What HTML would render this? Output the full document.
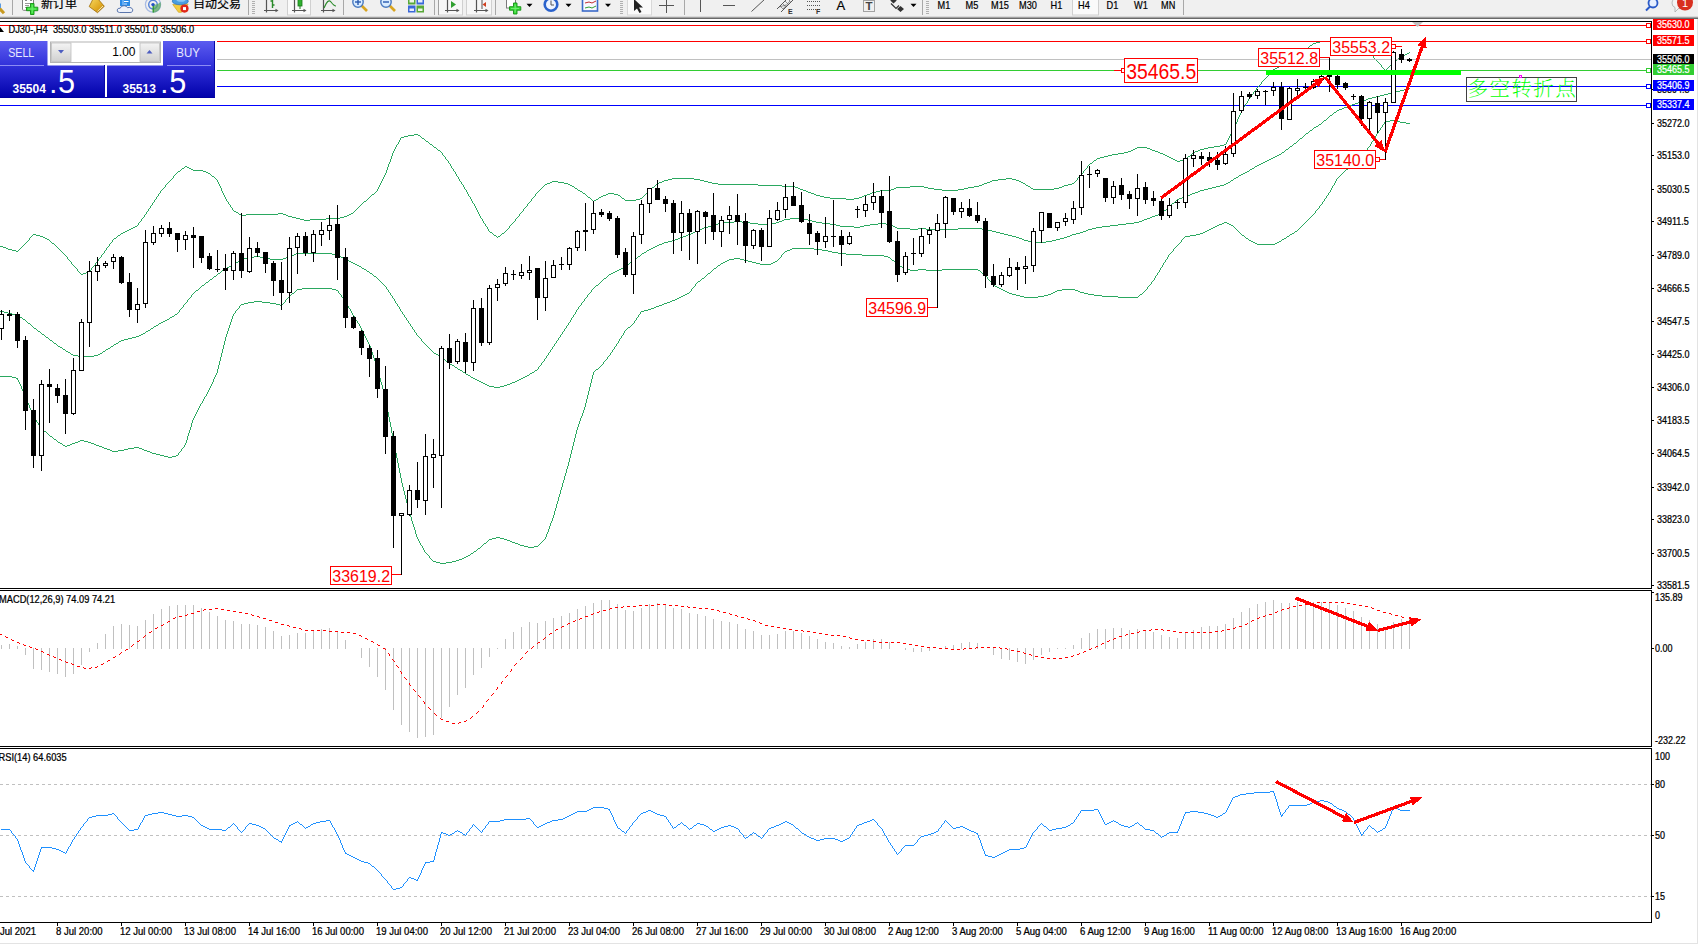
<!DOCTYPE html>
<html><head><meta charset="utf-8"><title>DJ30-,H4</title>
<style>
html,body{margin:0;padding:0;background:#fff;}
body{width:1698px;height:944px;position:relative;overflow:hidden;font-family:"Liberation Sans", sans-serif;}
svg text{white-space:pre;}
</style></head><body>
<svg width="1698" height="944" viewBox="0 0 1698 944" style="position:absolute;left:0;top:0" shape-rendering="crispEdges"><rect x="0" y="21" width="1652" height="1" fill="#000"/>
<rect x="1651" y="21" width="1" height="568" fill="#000"/>
<rect x="1651" y="590" width="1" height="157" fill="#000"/>
<rect x="1651" y="748" width="1" height="175" fill="#000"/>
<rect x="0" y="588" width="1652" height="1" fill="#000"/>
<rect x="0" y="590" width="1652" height="1" fill="#000"/>
<rect x="0" y="746" width="1652" height="1" fill="#000"/>
<rect x="0" y="748" width="1652" height="1" fill="#000"/>
<rect x="0" y="922" width="1652" height="1" fill="#000"/>
<rect x="217" y="86" width="1434" height="1" fill="#0000ff"/>
<rect x="0" y="105" width="1651" height="1" fill="#0000ff"/>
<path fill="#2aa860" d="M1320 41h14v1h-14zM1316 42h4v1h-4zM1334 42h14v1h-14zM1313 43h3v1h-3zM1348 43h4v1h-4zM1312 44h1v1h-1zM1352 44h4v1h-4zM1310 45h2v1h-2zM1356 45h4v1h-4zM1309 46h1v1h-1zM1360 46h2v1h-2zM1308 47h1v1h-1zM1362 47h2v1h-2zM1306 48h2v1h-2zM1364 48h1v1h-1zM1305 49h1v1h-1zM1365 49h1v1h-1zM1304 50h1v1h-1zM1366 50h2v1h-2zM1303 51h1v1h-1zM1368 51h1v1h-1zM1302 52h1v1h-1zM1369 52h1v1h-1zM1409 52h1v1h-1zM1301 53h1v1h-1zM1370 53h1v1h-1zM1407 53h2v1h-2zM1300 54h1v1h-1zM1371 54h1v1h-1zM1405 54h2v1h-2zM1299 55h1v1h-1zM1372 55h1v1h-1zM1403 55h2v1h-2zM1298 56h1v1h-1zM1373 56h1v2h-1zM1401 56h2v1h-2zM1297 57h1v1h-1zM1400 57h1v1h-1zM1296 58h1v1h-1zM1374 58h1v1h-1zM1398 58h2v1h-2zM1294 59h2v1h-2zM1375 59h1v1h-1zM1397 59h1v1h-1zM1293 60h1v1h-1zM1376 60h1v1h-1zM1396 60h1v1h-1zM1292 61h1v1h-1zM1377 61h1v1h-1zM1394 61h2v1h-2zM1290 62h2v1h-2zM1378 62h1v1h-1zM1393 62h1v1h-1zM1288 63h2v1h-2zM1379 63h1v1h-1zM1392 63h1v1h-1zM1284 64h4v1h-4zM1380 64h1v1h-1zM1391 64h1v1h-1zM1281 65h3v1h-3zM1381 65h1v2h-1zM1390 65h1v1h-1zM1279 66h2v1h-2zM1389 66h1v1h-1zM1277 67h2v1h-2zM1382 67h1v1h-1zM1388 67h1v1h-1zM1275 68h2v1h-2zM1383 68h1v1h-1zM1387 68h1v1h-1zM1273 69h2v1h-2zM1384 69h1v1h-1zM1386 69h1v1h-1zM1272 70h1v1h-1zM1385 70h1v1h-1zM1271 71h1v1h-1zM1270 72h1v1h-1zM1269 73h1v2h-1zM1268 75h1v1h-1zM1267 76h1v1h-1zM1266 77h1v1h-1zM1265 78h1v1h-1zM1264 79h1v1h-1zM1263 80h1v1h-1zM1262 81h1v1h-1zM1261 82h1v2h-1zM1260 84h1v1h-1zM1259 85h1v1h-1zM1258 86h1v1h-1zM1257 87h1v1h-1zM1256 88h1v2h-1zM1255 90h1v1h-1zM1254 91h1v1h-1zM1253 92h1v2h-1zM1252 94h1v1h-1zM1251 95h1v1h-1zM1250 96h1v2h-1zM1249 98h1v1h-1zM1248 99h1v2h-1zM1247 101h1v2h-1zM1246 103h1v1h-1zM1245 104h1v2h-1zM1244 106h1v1h-1zM1243 107h1v2h-1zM1242 109h1v2h-1zM1241 111h1v2h-1zM1240 113h1v2h-1zM1239 115h1v2h-1zM1238 117h1v2h-1zM1237 119h1v3h-1zM1236 122h1v2h-1zM1235 124h1v2h-1zM1234 126h1v2h-1zM1233 128h1v2h-1zM1232 130h1v2h-1zM1231 132h1v2h-1zM414 134h4v1h-4zM1230 134h1v2h-1zM408 135h6v1h-6zM418 135h2v1h-2zM404 136h4v1h-4zM420 136h1v1h-1zM1229 136h1v2h-1zM401 137h3v1h-3zM421 137h1v1h-1zM400 138h1v2h-1zM422 138h2v1h-2zM1228 138h1v2h-1zM424 139h1v1h-1zM399 140h1v2h-1zM425 140h1v1h-1zM1227 140h1v2h-1zM426 141h2v1h-2zM398 142h1v2h-1zM428 142h1v1h-1zM1226 142h1v2h-1zM429 143h1v1h-1zM397 144h1v1h-1zM430 144h2v1h-2zM1224 144h2v1h-2zM396 145h1v2h-1zM432 145h1v1h-1zM1220 145h4v1h-4zM433 146h1v1h-1zM1214 146h6v1h-6zM395 147h1v2h-1zM434 147h2v1h-2zM1137 147h10v1h-10zM1208 147h6v1h-6zM436 148h1v1h-1zM1135 148h2v1h-2zM1147 148h3v1h-3zM1204 148h4v1h-4zM394 149h1v2h-1zM437 149h1v1h-1zM1133 149h2v1h-2zM1150 149h2v1h-2zM1200 149h4v1h-4zM438 150h2v1h-2zM1131 150h2v1h-2zM1152 150h3v1h-3zM1198 150h2v1h-2zM393 151h1v2h-1zM440 151h1v1h-1zM1128 151h3v1h-3zM1155 151h3v1h-3zM1195 151h3v1h-3zM441 152h1v1h-1zM1124 152h4v1h-4zM1158 152h2v1h-2zM1193 152h2v1h-2zM392 153h1v3h-1zM442 153h1v2h-1zM1118 153h6v1h-6zM1160 153h3v1h-3zM1192 153h1v1h-1zM1112 154h6v1h-6zM1163 154h2v1h-2zM1191 154h1v1h-1zM443 155h1v1h-1zM1108 155h4v1h-4zM1165 155h2v1h-2zM1190 155h1v1h-1zM391 156h1v3h-1zM444 156h1v1h-1zM1104 156h4v1h-4zM1167 156h2v1h-2zM1188 156h2v1h-2zM445 157h1v2h-1zM1100 157h4v1h-4zM1169 157h2v1h-2zM1187 157h1v1h-1zM1097 158h3v1h-3zM1171 158h2v1h-2zM1186 158h1v1h-1zM390 159h1v3h-1zM446 159h1v1h-1zM1096 159h1v1h-1zM1173 159h2v1h-2zM1184 159h2v1h-2zM447 160h1v1h-1zM1094 160h2v1h-2zM1175 160h2v1h-2zM1180 160h4v1h-4zM448 161h1v2h-1zM1093 161h1v1h-1zM1177 161h3v1h-3zM389 162h1v2h-1zM1092 162h1v1h-1zM449 163h1v1h-1zM1090 163h2v1h-2zM388 164h1v3h-1zM450 164h1v2h-1zM1089 164h1v1h-1zM1088 165h1v1h-1zM185 166h2v1h-2zM451 166h1v2h-1zM1087 166h1v2h-1zM184 167h1v1h-1zM187 167h2v1h-2zM387 167h1v3h-1zM182 168h2v1h-2zM189 168h2v1h-2zM452 168h1v1h-1zM1086 168h1v1h-1zM181 169h1v1h-1zM191 169h2v1h-2zM453 169h1v2h-1zM1085 169h1v1h-1zM180 170h1v1h-1zM193 170h10v1h-10zM386 170h1v3h-1zM1084 170h1v1h-1zM178 171h2v1h-2zM203 171h3v1h-3zM454 171h1v1h-1zM1083 171h1v2h-1zM177 172h1v1h-1zM206 172h2v1h-2zM455 172h1v2h-1zM176 173h1v1h-1zM208 173h2v1h-2zM385 173h1v2h-1zM1082 173h1v1h-1zM175 174h1v1h-1zM210 174h1v1h-1zM456 174h1v2h-1zM1081 174h1v1h-1zM174 175h1v1h-1zM211 175h1v1h-1zM384 175h1v2h-1zM1080 175h1v1h-1zM173 176h1v2h-1zM212 176h2v1h-2zM457 176h1v1h-1zM1079 176h1v1h-1zM214 177h1v1h-1zM383 177h1v2h-1zM458 177h1v2h-1zM1078 177h1v1h-1zM172 178h1v1h-1zM215 178h1v1h-1zM672 178h22v1h-22zM1006 178h6v1h-6zM1077 178h1v2h-1zM171 179h1v1h-1zM216 179h1v1h-1zM382 179h1v2h-1zM459 179h1v2h-1zM668 179h4v1h-4zM694 179h6v1h-6zM998 179h8v1h-8zM1012 179h4v1h-4zM170 180h1v1h-1zM217 180h1v2h-1zM664 180h4v1h-4zM700 180h4v1h-4zM992 180h6v1h-6zM1016 180h3v1h-3zM1076 180h1v1h-1zM169 181h1v1h-1zM381 181h1v2h-1zM460 181h1v1h-1zM552 181h6v1h-6zM662 181h2v1h-2zM704 181h4v1h-4zM990 181h2v1h-2zM1019 181h2v1h-2zM1075 181h1v1h-1zM168 182h1v1h-1zM218 182h1v2h-1zM461 182h1v2h-1zM550 182h2v1h-2zM558 182h6v1h-6zM659 182h3v1h-3zM708 182h4v1h-4zM987 182h3v1h-3zM1021 182h2v1h-2zM1074 182h1v1h-1zM167 183h1v1h-1zM380 183h1v2h-1zM547 183h3v1h-3zM564 183h4v1h-4zM657 183h2v1h-2zM712 183h6v1h-6zM984 183h3v1h-3zM1023 183h2v1h-2zM1072 183h2v1h-2zM166 184h1v1h-1zM219 184h1v2h-1zM462 184h1v1h-1zM545 184h2v1h-2zM568 184h2v1h-2zM656 184h1v1h-1zM718 184h40v1h-40zM982 184h2v1h-2zM1025 184h1v1h-1zM1068 184h4v1h-4zM165 185h1v2h-1zM379 185h1v2h-1zM463 185h1v2h-1zM544 185h1v1h-1zM570 185h2v1h-2zM655 185h1v1h-1zM758 185h24v1h-24zM979 185h3v1h-3zM1026 185h2v1h-2zM1064 185h4v1h-4zM220 186h1v2h-1zM543 186h1v1h-1zM572 186h2v1h-2zM654 186h1v1h-1zM782 186h13v1h-13zM910 186h14v1h-14zM974 186h5v1h-5zM1028 186h2v1h-2zM1062 186h2v1h-2zM164 187h1v1h-1zM378 187h1v2h-1zM464 187h1v2h-1zM542 187h1v1h-1zM574 187h1v1h-1zM652 187h2v1h-2zM795 187h3v1h-3zM896 187h14v1h-14zM924 187h4v1h-4zM968 187h6v1h-6zM1030 187h1v1h-1zM1059 187h3v1h-3zM163 188h1v1h-1zM221 188h1v3h-1zM541 188h1v1h-1zM575 188h2v1h-2zM651 188h1v1h-1zM798 188h2v1h-2zM894 188h2v1h-2zM928 188h6v1h-6zM964 188h4v1h-4zM1031 188h2v1h-2zM1054 188h5v1h-5zM162 189h1v1h-1zM377 189h1v2h-1zM465 189h1v1h-1zM540 189h1v1h-1zM577 189h1v1h-1zM650 189h1v1h-1zM800 189h3v1h-3zM891 189h3v1h-3zM934 189h8v1h-8zM958 189h6v1h-6zM1033 189h21v1h-21zM161 190h1v1h-1zM466 190h1v2h-1zM539 190h1v1h-1zM578 190h2v1h-2zM649 190h1v1h-1zM803 190h3v1h-3zM880 190h11v1h-11zM942 190h16v1h-16zM160 191h1v2h-1zM222 191h1v2h-1zM376 191h1v1h-1zM538 191h1v1h-1zM580 191h2v1h-2zM648 191h1v1h-1zM806 191h2v1h-2zM876 191h4v1h-4zM375 192h1v1h-1zM467 192h1v2h-1zM537 192h1v1h-1zM582 192h1v1h-1zM647 192h1v1h-1zM808 192h3v1h-3zM872 192h4v1h-4zM159 193h1v1h-1zM223 193h1v2h-1zM374 193h1v1h-1zM536 193h1v1h-1zM583 193h2v1h-2zM608 193h6v1h-6zM646 193h1v1h-1zM811 193h3v1h-3zM870 193h2v1h-2zM158 194h1v2h-1zM372 194h2v1h-2zM468 194h1v2h-1zM535 194h1v2h-1zM585 194h1v1h-1zM606 194h2v1h-2zM614 194h4v1h-4zM645 194h1v1h-1zM814 194h2v1h-2zM867 194h3v1h-3zM224 195h1v2h-1zM371 195h1v1h-1zM586 195h1v1h-1zM603 195h3v1h-3zM618 195h2v1h-2zM644 195h1v1h-1zM816 195h4v1h-4zM864 195h3v1h-3zM157 196h1v1h-1zM370 196h1v1h-1zM469 196h1v1h-1zM534 196h1v1h-1zM587 196h1v1h-1zM601 196h2v1h-2zM620 196h1v1h-1zM643 196h1v1h-1zM820 196h4v1h-4zM862 196h2v1h-2zM156 197h1v2h-1zM225 197h1v2h-1zM369 197h1v1h-1zM470 197h1v2h-1zM533 197h1v1h-1zM588 197h2v1h-2zM599 197h2v1h-2zM621 197h1v1h-1zM642 197h1v1h-1zM824 197h6v1h-6zM859 197h3v1h-3zM368 198h1v1h-1zM532 198h1v1h-1zM590 198h1v1h-1zM598 198h1v1h-1zM622 198h2v1h-2zM640 198h2v1h-2zM830 198h16v1h-16zM854 198h5v1h-5zM155 199h1v1h-1zM226 199h1v2h-1zM367 199h1v1h-1zM471 199h1v2h-1zM531 199h1v2h-1zM591 199h1v1h-1zM596 199h2v1h-2zM624 199h1v1h-1zM636 199h4v1h-4zM846 199h8v1h-8zM154 200h1v2h-1zM366 200h1v1h-1zM592 200h1v1h-1zM594 200h2v1h-2zM625 200h11v1h-11zM227 201h1v1h-1zM364 201h2v1h-2zM472 201h1v2h-1zM530 201h1v1h-1zM593 201h1v1h-1zM153 202h1v1h-1zM228 202h1v2h-1zM363 202h1v1h-1zM529 202h1v1h-1zM152 203h1v2h-1zM362 203h1v1h-1zM473 203h1v1h-1zM528 203h1v1h-1zM229 204h1v1h-1zM361 204h1v1h-1zM474 204h1v2h-1zM527 204h1v2h-1zM151 205h1v1h-1zM230 205h1v2h-1zM360 205h1v1h-1zM150 206h1v2h-1zM359 206h1v1h-1zM475 206h1v2h-1zM526 206h1v1h-1zM231 207h1v1h-1zM358 207h1v1h-1zM525 207h1v1h-1zM149 208h1v1h-1zM232 208h1v2h-1zM357 208h1v1h-1zM476 208h1v2h-1zM524 208h1v1h-1zM148 209h1v2h-1zM356 209h1v1h-1zM523 209h1v2h-1zM233 210h1v1h-1zM355 210h1v1h-1zM477 210h1v2h-1zM147 211h1v1h-1zM234 211h2v1h-2zM354 211h1v1h-1zM522 211h1v1h-1zM146 212h1v2h-1zM236 212h2v1h-2zM353 212h1v1h-1zM478 212h1v2h-1zM521 212h1v1h-1zM238 213h1v1h-1zM278 213h5v1h-5zM351 213h2v1h-2zM520 213h1v1h-1zM145 214h1v1h-1zM239 214h2v1h-2zM246 214h32v1h-32zM283 214h3v1h-3zM349 214h2v1h-2zM479 214h1v2h-1zM519 214h1v2h-1zM144 215h1v2h-1zM241 215h5v1h-5zM286 215h2v1h-2zM347 215h2v1h-2zM288 216h4v1h-4zM344 216h3v1h-3zM480 216h1v2h-1zM518 216h1v1h-1zM143 217h1v1h-1zM292 217h4v1h-4zM340 217h4v1h-4zM517 217h1v1h-1zM142 218h1v1h-1zM296 218h4v1h-4zM326 218h14v1h-14zM481 218h1v1h-1zM516 218h1v1h-1zM141 219h1v2h-1zM300 219h4v1h-4zM310 219h16v1h-16zM482 219h1v2h-1zM515 219h1v2h-1zM304 220h6v1h-6zM140 221h1v1h-1zM483 221h1v2h-1zM514 221h1v1h-1zM139 222h1v1h-1zM513 222h1v1h-1zM138 223h1v2h-1zM484 223h1v1h-1zM512 223h1v1h-1zM485 224h1v2h-1zM511 224h1v1h-1zM137 225h1v1h-1zM510 225h1v1h-1zM135 226h2v1h-2zM486 226h1v1h-1zM509 226h1v2h-1zM133 227h2v1h-2zM487 227h1v2h-1zM131 228h2v1h-2zM508 228h1v1h-1zM129 229h2v1h-2zM488 229h1v2h-1zM507 229h1v1h-1zM127 230h2v1h-2zM506 230h1v1h-1zM125 231h2v1h-2zM489 231h1v1h-1zM505 231h1v1h-1zM123 232h2v1h-2zM490 232h2v1h-2zM504 232h1v1h-1zM121 233h2v1h-2zM492 233h1v1h-1zM502 233h2v1h-2zM33 234h3v1h-3zM120 234h1v1h-1zM493 234h1v1h-1zM501 234h1v1h-1zM32 235h1v1h-1zM36 235h4v1h-4zM118 235h2v1h-2zM494 235h2v1h-2zM500 235h1v1h-1zM31 236h1v1h-1zM40 236h3v1h-3zM117 236h1v1h-1zM496 236h1v1h-1zM498 236h2v1h-2zM30 237h1v1h-1zM43 237h2v1h-2zM116 237h1v1h-1zM497 237h1v1h-1zM29 238h1v2h-1zM45 238h2v1h-2zM114 238h2v1h-2zM47 239h2v1h-2zM113 239h1v1h-1zM28 240h1v1h-1zM49 240h1v1h-1zM112 240h1v2h-1zM27 241h1v1h-1zM50 241h1v1h-1zM26 242h1v1h-1zM51 242h1v1h-1zM111 242h1v1h-1zM25 243h1v1h-1zM52 243h2v1h-2zM110 243h1v1h-1zM24 244h1v1h-1zM54 244h1v1h-1zM109 244h1v2h-1zM23 245h1v1h-1zM55 245h1v1h-1zM-7 246h10v1h-10zM22 246h1v1h-1zM56 246h1v1h-1zM108 246h1v1h-1zM3 247h3v1h-3zM21 247h1v1h-1zM57 247h1v1h-1zM107 247h1v1h-1zM6 248h2v1h-2zM20 248h1v1h-1zM58 248h1v1h-1zM106 248h1v2h-1zM8 249h4v1h-4zM19 249h1v1h-1zM59 249h1v1h-1zM12 250h4v1h-4zM18 250h1v1h-1zM60 250h1v1h-1zM105 250h1v1h-1zM16 251h2v1h-2zM61 251h1v1h-1zM104 251h1v2h-1zM62 252h1v1h-1zM63 253h1v1h-1zM103 253h1v1h-1zM64 254h1v1h-1zM102 254h1v1h-1zM65 255h1v1h-1zM101 255h1v2h-1zM66 256h1v1h-1zM67 257h1v2h-1zM100 257h1v1h-1zM99 258h1v1h-1zM68 259h1v1h-1zM98 259h1v2h-1zM69 260h1v1h-1zM70 261h1v1h-1zM97 261h1v1h-1zM71 262h1v2h-1zM96 262h1v1h-1zM95 263h1v2h-1zM72 264h1v1h-1zM73 265h1v1h-1zM94 265h1v1h-1zM74 266h1v1h-1zM93 266h1v1h-1zM75 267h1v1h-1zM92 267h1v1h-1zM76 268h1v1h-1zM91 268h1v2h-1zM77 269h1v2h-1zM90 270h1v1h-1zM78 271h1v1h-1zM88 271h2v1h-2zM79 272h1v1h-1zM86 272h2v1h-2zM80 273h1v1h-1zM83 273h3v1h-3zM81 274h2v1h-2z"/>
<path fill="#2aa860" d="M1408 88h2v1h-2zM1404 89h4v1h-4zM1400 90h4v1h-4zM1396 91h4v1h-4zM1392 92h4v1h-4zM1388 93h4v1h-4zM1384 94h4v1h-4zM1380 95h4v1h-4zM1376 96h4v1h-4zM1372 97h4v1h-4zM1368 98h4v1h-4zM1366 99h2v1h-2zM1363 100h3v1h-3zM1360 101h3v1h-3zM1358 102h2v1h-2zM1355 103h3v1h-3zM1352 104h3v1h-3zM1350 105h2v1h-2zM1347 106h3v1h-3zM1344 107h3v1h-3zM1342 108h2v1h-2zM1339 109h3v1h-3zM1337 110h2v1h-2zM1336 111h1v1h-1zM1334 112h2v1h-2zM1333 113h1v1h-1zM1332 114h1v1h-1zM1330 115h2v1h-2zM1329 116h1v1h-1zM1328 117h1v1h-1zM1327 118h1v1h-1zM1326 119h1v1h-1zM1324 120h2v1h-2zM1323 121h1v1h-1zM1322 122h1v1h-1zM1321 123h1v1h-1zM1319 124h2v1h-2zM1318 125h1v1h-1zM1316 126h2v1h-2zM1314 127h2v1h-2zM1313 128h1v1h-1zM1312 129h1v1h-1zM1310 130h2v1h-2zM1309 131h1v1h-1zM1308 132h1v1h-1zM1306 133h2v1h-2zM1305 134h1v1h-1zM1304 135h1v1h-1zM1303 136h1v1h-1zM1302 137h1v1h-1zM1300 138h2v1h-2zM1299 139h1v1h-1zM1298 140h1v1h-1zM1297 141h1v1h-1zM1296 142h1v1h-1zM1294 143h2v1h-2zM1293 144h1v1h-1zM1292 145h1v1h-1zM1290 146h2v1h-2zM1289 147h1v1h-1zM1288 148h1v1h-1zM1286 149h2v1h-2zM1285 150h1v1h-1zM1284 151h1v1h-1zM1282 152h2v1h-2zM1281 153h1v1h-1zM1279 154h2v1h-2zM1277 155h2v1h-2zM1275 156h2v1h-2zM1273 157h2v1h-2zM1271 158h2v1h-2zM1269 159h2v1h-2zM1267 160h2v1h-2zM1265 161h2v1h-2zM1263 162h2v1h-2zM1261 163h2v1h-2zM1259 164h2v1h-2zM1257 165h2v1h-2zM1255 166h2v1h-2zM1254 167h1v1h-1zM1252 168h2v1h-2zM1250 169h2v1h-2zM1249 170h1v1h-1zM1247 171h2v1h-2zM1245 172h2v1h-2zM1243 173h2v1h-2zM1241 174h2v1h-2zM1239 175h2v1h-2zM1238 176h1v1h-1zM1236 177h2v1h-2zM1234 178h2v1h-2zM1233 179h1v1h-1zM1231 180h2v1h-2zM1230 181h1v1h-1zM1228 182h2v1h-2zM1226 183h2v1h-2zM1224 184h2v1h-2zM1220 185h4v1h-4zM1216 186h4v1h-4zM1212 187h4v1h-4zM1208 188h4v1h-4zM1204 189h4v1h-4zM1200 190h4v1h-4zM1198 191h2v1h-2zM1195 192h3v1h-3zM1192 193h3v1h-3zM1190 194h2v1h-2zM1187 195h3v1h-3zM1184 196h3v1h-3zM1182 197h2v1h-2zM1179 198h3v1h-3zM1177 199h2v1h-2zM1176 200h1v1h-1zM1175 201h1v1h-1zM1174 202h1v1h-1zM1172 203h2v1h-2zM1171 204h1v1h-1zM1170 205h1v1h-1zM1169 206h1v1h-1zM1168 207h1v1h-1zM1167 208h1v1h-1zM1166 209h1v1h-1zM1164 210h2v1h-2zM1163 211h1v1h-1zM1162 212h1v1h-1zM1160 213h2v1h-2zM1158 214h2v1h-2zM1155 215h3v1h-3zM1152 216h3v1h-3zM1150 217h2v1h-2zM790 218h14v1h-14zM1147 218h3v1h-3zM784 219h6v1h-6zM804 219h4v1h-4zM1144 219h3v1h-3zM782 220h2v1h-2zM808 220h4v1h-4zM1142 220h2v1h-2zM734 221h8v1h-8zM779 221h3v1h-3zM812 221h4v1h-4zM1139 221h3v1h-3zM720 222h14v1h-14zM742 222h8v1h-8zM776 222h3v1h-3zM816 222h6v1h-6zM1134 222h5v1h-5zM718 223h2v1h-2zM750 223h8v1h-8zM772 223h4v1h-4zM822 223h8v1h-8zM878 223h8v1h-8zM1126 223h8v1h-8zM715 224h3v1h-3zM758 224h14v1h-14zM830 224h6v1h-6zM870 224h8v1h-8zM886 224h5v1h-5zM1118 224h8v1h-8zM712 225h3v1h-3zM836 225h4v1h-4zM864 225h6v1h-6zM891 225h2v1h-2zM1110 225h8v1h-8zM708 226h4v1h-4zM840 226h14v1h-14zM860 226h4v1h-4zM893 226h2v1h-2zM1102 226h8v1h-8zM704 227h4v1h-4zM854 227h6v1h-6zM895 227h2v1h-2zM1096 227h6v1h-6zM702 228h2v1h-2zM897 228h13v1h-13zM918 228h8v1h-8zM958 228h24v1h-24zM1092 228h4v1h-4zM699 229h3v1h-3zM910 229h8v1h-8zM926 229h32v1h-32zM982 229h6v1h-6zM1088 229h4v1h-4zM697 230h2v1h-2zM988 230h4v1h-4zM1086 230h2v1h-2zM695 231h2v1h-2zM992 231h4v1h-4zM1083 231h3v1h-3zM693 232h2v1h-2zM996 232h4v1h-4zM1080 232h3v1h-3zM691 233h2v1h-2zM1000 233h4v1h-4zM1076 233h4v1h-4zM688 234h3v1h-3zM1004 234h4v1h-4zM1072 234h4v1h-4zM686 235h2v1h-2zM1008 235h4v1h-4zM1070 235h2v1h-2zM683 236h3v1h-3zM1012 236h4v1h-4zM1067 236h3v1h-3zM680 237h3v1h-3zM1016 237h3v1h-3zM1064 237h3v1h-3zM678 238h2v1h-2zM1019 238h3v1h-3zM1060 238h4v1h-4zM675 239h3v1h-3zM1022 239h2v1h-2zM1056 239h4v1h-4zM672 240h3v1h-3zM1024 240h4v1h-4zM1052 240h4v1h-4zM668 241h4v1h-4zM1028 241h4v1h-4zM1046 241h6v1h-6zM664 242h4v1h-4zM1032 242h14v1h-14zM662 243h2v1h-2zM659 244h3v1h-3zM657 245h2v1h-2zM655 246h2v1h-2zM653 247h2v1h-2zM651 248h2v1h-2zM649 249h2v1h-2zM647 250h2v1h-2zM646 251h1v1h-1zM644 252h2v1h-2zM296 253h36v1h-36zM642 253h2v1h-2zM294 254h2v1h-2zM332 254h4v1h-4zM641 254h1v1h-1zM291 255h3v1h-3zM336 255h3v1h-3zM640 255h1v1h-1zM254 256h6v1h-6zM288 256h3v1h-3zM339 256h2v1h-2zM638 256h2v1h-2zM248 257h6v1h-6zM260 257h4v1h-4zM286 257h2v1h-2zM341 257h2v1h-2zM637 257h1v1h-1zM244 258h4v1h-4zM264 258h6v1h-6zM283 258h3v1h-3zM343 258h2v1h-2zM636 258h1v1h-1zM241 259h3v1h-3zM270 259h13v1h-13zM345 259h2v1h-2zM634 259h2v1h-2zM239 260h2v1h-2zM347 260h2v1h-2zM633 260h1v1h-1zM238 261h1v1h-1zM349 261h2v1h-2zM632 261h1v1h-1zM236 262h2v1h-2zM351 262h2v1h-2zM630 262h2v1h-2zM234 263h2v1h-2zM353 263h2v1h-2zM629 263h1v1h-1zM233 264h1v1h-1zM355 264h2v1h-2zM628 264h1v1h-1zM231 265h2v1h-2zM357 265h2v1h-2zM626 265h2v1h-2zM229 266h2v1h-2zM359 266h2v1h-2zM625 266h1v1h-1zM227 267h2v1h-2zM361 267h1v1h-1zM623 267h2v1h-2zM225 268h2v1h-2zM362 268h2v1h-2zM621 268h2v1h-2zM224 269h1v1h-1zM364 269h2v1h-2zM619 269h2v1h-2zM222 270h2v1h-2zM366 270h1v1h-1zM617 270h2v1h-2zM221 271h1v1h-1zM367 271h2v1h-2zM615 271h2v1h-2zM220 272h1v1h-1zM369 272h1v1h-1zM613 272h2v1h-2zM218 273h2v1h-2zM370 273h2v1h-2zM611 273h2v1h-2zM217 274h1v1h-1zM372 274h1v1h-1zM609 274h2v1h-2zM216 275h1v1h-1zM373 275h1v1h-1zM608 275h1v1h-1zM214 276h2v1h-2zM374 276h2v1h-2zM607 276h1v1h-1zM213 277h1v1h-1zM376 277h1v1h-1zM606 277h1v1h-1zM212 278h1v1h-1zM377 278h1v1h-1zM604 278h2v1h-2zM210 279h2v1h-2zM378 279h1v1h-1zM603 279h1v1h-1zM209 280h1v1h-1zM379 280h1v1h-1zM602 280h1v1h-1zM208 281h1v1h-1zM380 281h1v1h-1zM601 281h1v1h-1zM206 282h2v1h-2zM381 282h1v1h-1zM600 282h1v1h-1zM205 283h1v1h-1zM382 283h1v1h-1zM599 283h1v1h-1zM204 284h1v1h-1zM383 284h1v1h-1zM598 284h1v1h-1zM202 285h2v1h-2zM384 285h1v1h-1zM596 285h2v1h-2zM201 286h1v1h-1zM385 286h1v1h-1zM595 286h1v1h-1zM200 287h1v1h-1zM386 287h1v2h-1zM594 287h1v1h-1zM199 288h1v1h-1zM593 288h1v1h-1zM198 289h1v1h-1zM387 289h1v1h-1zM592 289h1v1h-1zM196 290h2v1h-2zM388 290h1v2h-1zM591 290h1v2h-1zM195 291h1v1h-1zM194 292h1v1h-1zM389 292h1v1h-1zM590 292h1v1h-1zM193 293h1v1h-1zM390 293h1v2h-1zM589 293h1v1h-1zM192 294h1v1h-1zM588 294h1v1h-1zM191 295h1v2h-1zM391 295h1v1h-1zM587 295h1v2h-1zM392 296h1v2h-1zM190 297h1v1h-1zM586 297h1v1h-1zM189 298h1v1h-1zM393 298h1v1h-1zM585 298h1v1h-1zM188 299h1v1h-1zM394 299h1v2h-1zM584 299h1v2h-1zM187 300h1v2h-1zM395 301h1v2h-1zM583 301h1v1h-1zM186 302h1v1h-1zM582 302h1v1h-1zM185 303h1v1h-1zM396 303h1v1h-1zM581 303h1v2h-1zM184 304h1v1h-1zM397 304h1v2h-1zM183 305h1v2h-1zM580 305h1v1h-1zM398 306h1v1h-1zM579 306h1v1h-1zM182 307h1v1h-1zM399 307h1v2h-1zM578 307h1v2h-1zM181 308h1v1h-1zM180 309h1v1h-1zM400 309h1v2h-1zM577 309h1v1h-1zM179 310h1v2h-1zM576 310h1v2h-1zM-7 311h11v1h-11zM401 311h1v1h-1zM4 312h4v1h-4zM178 312h1v1h-1zM402 312h1v2h-1zM575 312h1v2h-1zM8 313h4v1h-4zM177 313h1v1h-1zM12 314h4v1h-4zM175 314h2v1h-2zM403 314h1v1h-1zM574 314h1v1h-1zM16 315h2v1h-2zM174 315h1v1h-1zM404 315h1v2h-1zM573 315h1v2h-1zM18 316h2v1h-2zM172 316h2v1h-2zM20 317h2v1h-2zM170 317h2v1h-2zM405 317h1v1h-1zM572 317h1v1h-1zM22 318h1v1h-1zM169 318h1v1h-1zM406 318h1v2h-1zM571 318h1v2h-1zM23 319h2v1h-2zM167 319h2v1h-2zM25 320h1v1h-1zM165 320h2v1h-2zM407 320h1v1h-1zM570 320h1v2h-1zM26 321h1v1h-1zM163 321h2v1h-2zM408 321h1v2h-1zM27 322h1v1h-1zM161 322h2v1h-2zM569 322h1v1h-1zM28 323h2v1h-2zM159 323h2v1h-2zM409 323h1v1h-1zM568 323h1v2h-1zM30 324h1v1h-1zM158 324h1v1h-1zM410 324h1v2h-1zM31 325h1v1h-1zM156 325h2v1h-2zM567 325h1v1h-1zM32 326h1v1h-1zM154 326h2v1h-2zM411 326h1v1h-1zM566 326h1v2h-1zM33 327h1v1h-1zM153 327h1v1h-1zM412 327h1v2h-1zM34 328h2v1h-2zM151 328h2v1h-2zM565 328h1v1h-1zM36 329h1v1h-1zM150 329h1v1h-1zM413 329h1v1h-1zM564 329h1v2h-1zM37 330h1v1h-1zM148 330h2v1h-2zM414 330h1v2h-1zM38 331h2v1h-2zM146 331h2v1h-2zM563 331h1v1h-1zM40 332h1v1h-1zM145 332h1v1h-1zM415 332h1v1h-1zM562 332h1v2h-1zM41 333h1v1h-1zM143 333h2v1h-2zM416 333h1v2h-1zM42 334h2v1h-2zM141 334h2v1h-2zM561 334h1v1h-1zM44 335h1v1h-1zM139 335h2v1h-2zM417 335h1v1h-1zM560 335h1v2h-1zM45 336h1v1h-1zM136 336h3v1h-3zM418 336h1v1h-1zM46 337h2v1h-2zM132 337h4v1h-4zM419 337h1v1h-1zM559 337h1v1h-1zM48 338h1v1h-1zM128 338h4v1h-4zM420 338h1v1h-1zM558 338h1v2h-1zM49 339h1v1h-1zM124 339h4v1h-4zM421 339h1v2h-1zM50 340h2v1h-2zM121 340h3v1h-3zM557 340h1v1h-1zM52 341h1v1h-1zM119 341h2v1h-2zM422 341h1v1h-1zM556 341h1v2h-1zM53 342h1v1h-1zM118 342h1v1h-1zM423 342h1v1h-1zM54 343h2v1h-2zM116 343h2v1h-2zM424 343h1v1h-1zM555 343h1v1h-1zM56 344h1v1h-1zM114 344h2v1h-2zM425 344h1v1h-1zM554 344h1v2h-1zM57 345h1v1h-1zM113 345h1v1h-1zM426 345h1v1h-1zM58 346h2v1h-2zM111 346h2v1h-2zM427 346h1v1h-1zM553 346h1v1h-1zM60 347h2v1h-2zM110 347h1v1h-1zM428 347h1v1h-1zM552 347h1v2h-1zM62 348h1v1h-1zM108 348h2v1h-2zM429 348h1v1h-1zM63 349h2v1h-2zM106 349h2v1h-2zM430 349h1v1h-1zM551 349h1v1h-1zM65 350h1v1h-1zM105 350h1v1h-1zM431 350h1v1h-1zM550 350h1v2h-1zM66 351h2v1h-2zM103 351h2v1h-2zM432 351h1v1h-1zM68 352h2v1h-2zM102 352h1v1h-1zM433 352h1v1h-1zM549 352h1v1h-1zM70 353h1v1h-1zM100 353h2v1h-2zM434 353h2v1h-2zM548 353h1v2h-1zM71 354h2v1h-2zM98 354h2v1h-2zM436 354h2v1h-2zM73 355h5v1h-5zM94 355h4v1h-4zM438 355h1v1h-1zM547 355h1v1h-1zM78 356h16v1h-16zM439 356h2v1h-2zM546 356h1v2h-1zM441 357h1v1h-1zM442 358h2v1h-2zM545 358h1v1h-1zM444 359h1v1h-1zM544 359h1v2h-1zM445 360h1v1h-1zM446 361h2v1h-2zM543 361h1v1h-1zM448 362h1v1h-1zM542 362h1v1h-1zM449 363h1v1h-1zM541 363h1v2h-1zM450 364h2v1h-2zM452 365h2v1h-2zM540 365h1v1h-1zM454 366h1v1h-1zM539 366h1v1h-1zM455 367h2v1h-2zM538 367h1v2h-1zM457 368h1v1h-1zM458 369h2v1h-2zM537 369h1v1h-1zM460 370h2v1h-2zM535 370h2v1h-2zM462 371h1v1h-1zM534 371h1v1h-1zM463 372h2v1h-2zM532 372h2v1h-2zM465 373h1v1h-1zM530 373h2v1h-2zM466 374h2v1h-2zM529 374h1v1h-1zM468 375h2v1h-2zM527 375h2v1h-2zM470 376h1v1h-1zM525 376h2v1h-2zM471 377h2v1h-2zM523 377h2v1h-2zM473 378h2v1h-2zM521 378h2v1h-2zM475 379h2v1h-2zM519 379h2v1h-2zM477 380h2v1h-2zM517 380h2v1h-2zM479 381h2v1h-2zM515 381h2v1h-2zM481 382h2v1h-2zM512 382h3v1h-3zM483 383h2v1h-2zM510 383h2v1h-2zM485 384h2v1h-2zM507 384h3v1h-3zM487 385h2v1h-2zM504 385h3v1h-3zM489 386h5v1h-5zM500 386h4v1h-4zM494 387h6v1h-6z"/>
<path fill="#2aa860" d="M1390 120h6v1h-6zM1385 121h5v1h-5zM1396 121h4v1h-4zM1384 122h1v2h-1zM1400 122h6v1h-6zM1406 123h4v1h-4zM1383 124h1v1h-1zM1382 125h1v2h-1zM1381 127h1v1h-1zM1380 128h1v2h-1zM1379 130h1v1h-1zM1378 131h1v2h-1zM1377 133h1v1h-1zM1376 134h1v2h-1zM1375 136h1v2h-1zM1374 138h1v1h-1zM1373 139h1v2h-1zM1372 141h1v1h-1zM1371 142h1v2h-1zM1370 144h1v2h-1zM1369 146h1v1h-1zM1368 147h1v1h-1zM1367 148h1v2h-1zM1366 150h1v1h-1zM1365 151h1v1h-1zM1364 152h1v1h-1zM1363 153h1v2h-1zM1362 155h1v1h-1zM1361 156h1v1h-1zM1360 157h1v1h-1zM1359 158h1v1h-1zM1358 159h1v1h-1zM1357 160h1v1h-1zM1356 161h1v1h-1zM1355 162h1v1h-1zM1354 163h1v1h-1zM1353 164h1v1h-1zM1352 165h1v1h-1zM1350 166h2v1h-2zM1349 167h1v1h-1zM1348 168h1v1h-1zM1346 169h2v1h-2zM1345 170h1v1h-1zM1344 171h1v1h-1zM1343 172h1v1h-1zM1342 173h1v1h-1zM1341 174h1v1h-1zM1340 175h1v1h-1zM1339 176h1v1h-1zM1338 177h1v1h-1zM1337 178h1v1h-1zM1336 179h1v2h-1zM1335 181h1v2h-1zM1334 183h1v2h-1zM1333 185h1v1h-1zM1332 186h1v2h-1zM1331 188h1v2h-1zM1330 190h1v2h-1zM1329 192h1v1h-1zM1328 193h1v2h-1zM1327 195h1v1h-1zM1326 196h1v2h-1zM1325 198h1v1h-1zM1324 199h1v2h-1zM1323 201h1v1h-1zM1322 202h1v2h-1zM1321 204h1v1h-1zM1320 205h1v1h-1zM1319 206h1v2h-1zM1318 208h1v1h-1zM1317 209h1v1h-1zM1316 210h1v1h-1zM1315 211h1v2h-1zM1314 213h1v1h-1zM1313 214h1v1h-1zM1312 215h1v1h-1zM1311 216h1v1h-1zM1310 217h1v1h-1zM1309 218h1v1h-1zM1308 219h1v1h-1zM1307 220h1v1h-1zM1306 221h1v1h-1zM1224 222h3v1h-3zM1305 222h1v1h-1zM1222 223h2v1h-2zM1227 223h2v1h-2zM1304 223h1v1h-1zM1219 224h3v1h-3zM1229 224h2v1h-2zM1303 224h1v1h-1zM1217 225h2v1h-2zM1231 225h2v1h-2zM1302 225h1v1h-1zM1215 226h2v1h-2zM1233 226h1v1h-1zM1301 226h1v1h-1zM1213 227h2v1h-2zM1234 227h1v1h-1zM1300 227h1v1h-1zM1211 228h2v1h-2zM1235 228h1v1h-1zM1299 228h1v1h-1zM1209 229h2v1h-2zM1236 229h1v1h-1zM1298 229h1v1h-1zM1207 230h2v1h-2zM1237 230h1v1h-1zM1297 230h1v1h-1zM1205 231h2v1h-2zM1238 231h1v1h-1zM1295 231h2v1h-2zM1203 232h2v1h-2zM1239 232h1v1h-1zM1294 232h1v1h-1zM1200 233h3v1h-3zM1240 233h1v1h-1zM1292 233h2v1h-2zM1196 234h4v1h-4zM1241 234h1v1h-1zM1290 234h2v1h-2zM1190 235h6v1h-6zM1242 235h2v1h-2zM1289 235h1v1h-1zM1185 236h5v1h-5zM1244 236h1v1h-1zM1287 236h2v1h-2zM1184 237h1v1h-1zM1245 237h1v1h-1zM1286 237h1v1h-1zM1183 238h1v1h-1zM1246 238h2v1h-2zM1284 238h2v1h-2zM1182 239h1v1h-1zM1248 239h1v1h-1zM1282 239h2v1h-2zM1181 240h1v2h-1zM1249 240h2v1h-2zM1281 240h1v1h-1zM1251 241h2v1h-2zM1279 241h2v1h-2zM1180 242h1v1h-1zM1253 242h2v1h-2zM1277 242h2v1h-2zM1179 243h1v1h-1zM1255 243h2v1h-2zM1275 243h2v1h-2zM1178 244h1v1h-1zM1257 244h18v1h-18zM1177 245h1v1h-1zM1176 246h1v1h-1zM1175 247h1v1h-1zM792 248h22v1h-22zM1174 248h1v1h-1zM790 249h2v1h-2zM814 249h8v1h-8zM1173 249h1v2h-1zM787 250h3v1h-3zM822 250h6v1h-6zM785 251h2v1h-2zM828 251h4v1h-4zM1172 251h1v1h-1zM784 252h1v1h-1zM832 252h6v1h-6zM1171 252h1v1h-1zM783 253h1v1h-1zM838 253h8v1h-8zM1170 253h1v1h-1zM782 254h1v1h-1zM846 254h16v1h-16zM1169 254h1v1h-1zM781 255h1v2h-1zM862 255h22v1h-22zM1168 255h1v2h-1zM884 256h4v1h-4zM780 257h1v1h-1zM888 257h2v1h-2zM1167 257h1v2h-1zM734 258h6v1h-6zM779 258h1v1h-1zM890 258h1v1h-1zM729 259h5v1h-5zM740 259h4v1h-4zM778 259h1v1h-1zM891 259h1v1h-1zM1166 259h1v1h-1zM727 260h2v1h-2zM744 260h4v1h-4zM777 260h1v1h-1zM892 260h2v1h-2zM1165 260h1v2h-1zM725 261h2v1h-2zM748 261h4v1h-4zM775 261h2v1h-2zM894 261h1v1h-1zM723 262h2v1h-2zM752 262h4v1h-4zM773 262h2v1h-2zM895 262h1v1h-1zM1164 262h1v1h-1zM721 263h2v1h-2zM756 263h4v1h-4zM771 263h2v1h-2zM896 263h1v1h-1zM1163 263h1v2h-1zM720 264h1v1h-1zM760 264h11v1h-11zM897 264h1v1h-1zM718 265h2v1h-2zM898 265h2v1h-2zM1162 265h1v2h-1zM717 266h1v1h-1zM900 266h2v1h-2zM716 267h1v1h-1zM902 267h1v1h-1zM1161 267h1v1h-1zM714 268h2v1h-2zM903 268h2v1h-2zM1160 268h1v2h-1zM713 269h1v1h-1zM905 269h5v1h-5zM918 269h8v1h-8zM942 269h36v1h-36zM712 270h1v1h-1zM910 270h8v1h-8zM926 270h16v1h-16zM978 270h2v1h-2zM1159 270h1v2h-1zM711 271h1v1h-1zM980 271h1v1h-1zM710 272h1v1h-1zM981 272h1v1h-1zM1158 272h1v1h-1zM708 273h2v1h-2zM982 273h2v1h-2zM1157 273h1v2h-1zM707 274h1v1h-1zM984 274h1v1h-1zM706 275h1v1h-1zM985 275h1v1h-1zM1156 275h1v1h-1zM705 276h1v1h-1zM986 276h1v1h-1zM1155 276h1v2h-1zM704 277h1v1h-1zM987 277h1v2h-1zM702 278h2v1h-2zM1154 278h1v2h-1zM701 279h1v1h-1zM988 279h1v1h-1zM700 280h1v1h-1zM989 280h1v1h-1zM1153 280h1v1h-1zM698 281h2v1h-2zM990 281h1v1h-1zM1152 281h1v1h-1zM697 282h1v1h-1zM991 282h1v2h-1zM1151 282h1v2h-1zM696 283h1v1h-1zM695 284h1v2h-1zM992 284h1v1h-1zM1150 284h1v1h-1zM993 285h2v1h-2zM1149 285h1v1h-1zM694 286h1v1h-1zM995 286h2v1h-2zM1148 286h1v1h-1zM693 287h1v1h-1zM997 287h2v1h-2zM1147 287h1v2h-1zM302 288h30v1h-30zM692 288h1v1h-1zM999 288h2v1h-2zM297 289h5v1h-5zM332 289h4v1h-4zM691 289h1v2h-1zM1001 289h2v1h-2zM1062 289h13v1h-13zM1146 289h1v1h-1zM296 290h1v1h-1zM336 290h2v1h-2zM1003 290h2v1h-2zM1057 290h5v1h-5zM1075 290h3v1h-3zM1145 290h1v1h-1zM295 291h1v1h-1zM338 291h1v2h-1zM690 291h1v1h-1zM1005 291h2v1h-2zM1055 291h2v1h-2zM1078 291h2v1h-2zM1144 291h1v1h-1zM294 292h1v1h-1zM689 292h1v1h-1zM1007 292h2v1h-2zM1053 292h2v1h-2zM1080 292h4v1h-4zM1143 292h1v1h-1zM292 293h2v1h-2zM339 293h1v1h-1zM687 293h2v1h-2zM1009 293h3v1h-3zM1051 293h2v1h-2zM1084 293h4v1h-4zM1142 293h1v1h-1zM291 294h1v1h-1zM340 294h1v1h-1zM685 294h2v1h-2zM1012 294h4v1h-4zM1048 294h3v1h-3zM1088 294h6v1h-6zM1140 294h2v1h-2zM290 295h1v1h-1zM341 295h1v2h-1zM683 295h2v1h-2zM1016 295h4v1h-4zM1044 295h4v1h-4zM1094 295h8v1h-8zM1139 295h1v1h-1zM289 296h1v1h-1zM681 296h2v1h-2zM1020 296h4v1h-4zM1038 296h6v1h-6zM1102 296h16v1h-16zM1138 296h1v1h-1zM288 297h1v1h-1zM342 297h1v1h-1zM679 297h2v1h-2zM1024 297h14v1h-14zM1118 297h20v1h-20zM287 298h1v1h-1zM343 298h1v1h-1zM677 298h2v1h-2zM286 299h1v1h-1zM344 299h1v2h-1zM675 299h2v1h-2zM285 300h1v2h-1zM672 300h3v1h-3zM254 301h8v1h-8zM345 301h1v1h-1zM670 301h2v1h-2zM248 302h6v1h-6zM262 302h8v1h-8zM284 302h1v1h-1zM346 302h1v2h-1zM667 302h3v1h-3zM244 303h4v1h-4zM270 303h6v1h-6zM283 303h1v1h-1zM664 303h3v1h-3zM241 304h3v1h-3zM276 304h4v1h-4zM282 304h1v1h-1zM347 304h1v2h-1zM662 304h2v1h-2zM240 305h1v1h-1zM280 305h2v1h-2zM659 305h3v1h-3zM239 306h1v2h-1zM348 306h1v2h-1zM656 306h3v1h-3zM654 307h2v1h-2zM238 308h1v1h-1zM349 308h1v1h-1zM651 308h3v1h-3zM237 309h1v1h-1zM350 309h1v2h-1zM648 309h3v1h-3zM236 310h1v1h-1zM644 310h4v1h-4zM235 311h1v2h-1zM351 311h1v2h-1zM641 311h3v1h-3zM640 312h1v2h-1zM234 313h1v1h-1zM352 313h1v2h-1zM233 314h1v2h-1zM639 314h1v1h-1zM353 315h1v1h-1zM638 315h1v2h-1zM232 316h1v3h-1zM354 316h1v2h-1zM637 317h1v1h-1zM355 318h1v2h-1zM636 318h1v2h-1zM231 319h1v3h-1zM356 320h1v1h-1zM635 320h1v1h-1zM357 321h1v2h-1zM634 321h1v2h-1zM230 322h1v3h-1zM358 323h1v1h-1zM633 323h1v1h-1zM359 324h1v2h-1zM632 324h1v1h-1zM229 325h1v3h-1zM631 325h1v1h-1zM360 326h1v2h-1zM630 326h1v1h-1zM628 327h2v1h-2zM228 328h1v3h-1zM361 328h1v2h-1zM627 328h1v1h-1zM626 329h1v1h-1zM362 330h1v2h-1zM625 330h1v1h-1zM227 331h1v3h-1zM624 331h1v2h-1zM363 332h1v2h-1zM623 333h1v2h-1zM226 334h1v3h-1zM364 334h1v2h-1zM622 335h1v1h-1zM365 336h1v2h-1zM621 336h1v2h-1zM225 337h1v4h-1zM366 338h1v2h-1zM620 338h1v1h-1zM619 339h1v2h-1zM367 340h1v2h-1zM224 341h1v4h-1zM618 341h1v2h-1zM368 342h1v2h-1zM617 343h1v1h-1zM369 344h1v2h-1zM616 344h1v2h-1zM223 345h1v4h-1zM370 346h1v3h-1zM615 346h1v1h-1zM614 347h1v2h-1zM222 349h1v4h-1zM371 349h1v3h-1zM613 349h1v1h-1zM612 350h1v2h-1zM372 352h1v3h-1zM611 352h1v1h-1zM221 353h1v4h-1zM610 353h1v2h-1zM373 355h1v3h-1zM609 355h1v1h-1zM608 356h1v1h-1zM220 357h1v4h-1zM607 357h1v2h-1zM374 358h1v3h-1zM606 359h1v1h-1zM605 360h1v1h-1zM219 361h1v4h-1zM375 361h1v3h-1zM604 361h1v1h-1zM603 362h1v2h-1zM376 364h1v3h-1zM602 364h1v1h-1zM218 365h1v4h-1zM601 365h1v1h-1zM600 366h1v1h-1zM377 367h1v3h-1zM599 367h1v1h-1zM598 368h1v1h-1zM217 369h1v4h-1zM596 369h2v1h-2zM378 370h1v4h-1zM595 370h1v1h-1zM594 371h1v1h-1zM593 372h1v3h-1zM216 373h1v2h-1zM379 374h1v4h-1zM215 375h1v2h-1zM592 375h1v4h-1zM-7 376h19v1h-19zM12 377h4v1h-4zM214 377h1v2h-1zM16 378h2v1h-2zM380 378h1v4h-1zM17 379h1v1h-1zM213 379h1v3h-1zM591 379h1v4h-1zM18 380h1v2h-1zM19 382h1v2h-1zM212 382h1v2h-1zM381 382h1v3h-1zM590 383h1v4h-1zM20 384h1v2h-1zM211 384h1v2h-1zM382 385h1v4h-1zM21 386h1v3h-1zM210 386h1v2h-1zM589 387h1v4h-1zM209 388h1v2h-1zM22 389h1v2h-1zM383 389h1v4h-1zM208 390h1v2h-1zM23 391h1v2h-1zM588 391h1v4h-1zM207 392h1v2h-1zM24 393h1v2h-1zM384 393h1v4h-1zM206 394h1v2h-1zM25 395h1v3h-1zM587 395h1v4h-1zM205 396h1v1h-1zM204 397h1v2h-1zM385 397h1v4h-1zM26 398h1v2h-1zM203 399h1v2h-1zM586 399h1v4h-1zM27 400h1v3h-1zM202 401h1v2h-1zM386 401h1v5h-1zM28 403h1v2h-1zM201 403h1v1h-1zM585 403h1v4h-1zM200 404h1v2h-1zM29 405h1v3h-1zM199 406h1v2h-1zM387 406h1v6h-1zM584 407h1v3h-1zM30 408h1v2h-1zM198 408h1v2h-1zM31 410h1v3h-1zM197 410h1v2h-1zM583 410h1v3h-1zM196 412h1v2h-1zM388 412h1v5h-1zM32 413h1v2h-1zM582 413h1v3h-1zM195 414h1v2h-1zM33 415h1v2h-1zM194 416h1v2h-1zM581 416h1v2h-1zM34 417h1v2h-1zM389 417h1v5h-1zM193 418h1v2h-1zM580 418h1v3h-1zM35 419h1v1h-1zM36 420h1v2h-1zM192 420h1v3h-1zM579 421h1v3h-1zM37 422h1v1h-1zM390 422h1v5h-1zM38 423h1v2h-1zM191 423h1v4h-1zM578 424h1v3h-1zM39 425h1v1h-1zM40 426h1v2h-1zM190 427h1v3h-1zM391 427h1v6h-1zM577 427h1v3h-1zM41 428h1v1h-1zM42 429h1v1h-1zM43 430h1v1h-1zM189 430h1v3h-1zM576 430h1v4h-1zM44 431h2v1h-2zM46 432h1v1h-1zM47 433h1v1h-1zM188 433h1v3h-1zM392 433h1v5h-1zM48 434h1v1h-1zM575 434h1v4h-1zM49 435h1v1h-1zM50 436h2v1h-2zM187 436h1v4h-1zM52 437h1v1h-1zM53 438h1v1h-1zM393 438h1v5h-1zM574 438h1v4h-1zM54 439h2v1h-2zM56 440h1v1h-1zM80 440h4v1h-4zM186 440h1v3h-1zM57 441h1v1h-1zM78 441h2v1h-2zM84 441h4v1h-4zM58 442h2v1h-2zM75 442h3v1h-3zM88 442h3v1h-3zM573 442h1v4h-1zM60 443h2v1h-2zM72 443h3v1h-3zM91 443h3v1h-3zM185 443h1v2h-1zM394 443h1v5h-1zM62 444h1v1h-1zM70 444h2v1h-2zM94 444h2v1h-2zM63 445h2v1h-2zM67 445h3v1h-3zM96 445h3v1h-3zM184 445h1v2h-1zM65 446h2v1h-2zM99 446h3v1h-3zM572 446h1v4h-1zM102 447h2v1h-2zM134 447h5v1h-5zM183 447h1v1h-1zM104 448h3v1h-3zM128 448h6v1h-6zM139 448h3v1h-3zM182 448h1v1h-1zM395 448h1v5h-1zM107 449h3v1h-3zM124 449h4v1h-4zM142 449h2v1h-2zM181 449h1v2h-1zM110 450h2v1h-2zM118 450h6v1h-6zM144 450h3v1h-3zM571 450h1v4h-1zM112 451h6v1h-6zM147 451h3v1h-3zM180 451h1v1h-1zM150 452h2v1h-2zM179 452h1v1h-1zM152 453h4v1h-4zM178 453h1v2h-1zM396 453h1v5h-1zM156 454h4v1h-4zM570 454h1v4h-1zM160 455h4v1h-4zM176 455h2v1h-2zM164 456h4v1h-4zM172 456h4v1h-4zM168 457h4v1h-4zM397 458h1v5h-1zM569 458h1v4h-1zM568 462h1v4h-1zM398 463h1v5h-1zM567 466h1v3h-1zM399 468h1v5h-1zM566 469h1v4h-1zM400 473h1v5h-1zM565 473h1v3h-1zM564 476h1v4h-1zM401 478h1v5h-1zM563 480h1v3h-1zM402 483h1v4h-1zM562 483h1v4h-1zM403 487h1v4h-1zM561 487h1v3h-1zM560 490h1v4h-1zM404 491h1v4h-1zM559 494h1v3h-1zM405 495h1v4h-1zM558 497h1v4h-1zM406 499h1v4h-1zM557 501h1v3h-1zM407 503h1v4h-1zM556 504h1v4h-1zM408 507h1v4h-1zM555 508h1v3h-1zM409 511h1v3h-1zM554 511h1v4h-1zM410 514h1v3h-1zM553 515h1v3h-1zM411 517h1v4h-1zM552 518h1v3h-1zM412 521h1v3h-1zM551 521h1v2h-1zM550 523h1v3h-1zM413 524h1v3h-1zM549 526h1v3h-1zM414 527h1v3h-1zM548 529h1v3h-1zM415 530h1v4h-1zM547 532h1v2h-1zM416 534h1v3h-1zM546 534h1v3h-1zM417 537h1v2h-1zM496 537h4v1h-4zM545 537h1v2h-1zM492 538h4v1h-4zM500 538h4v1h-4zM418 539h1v2h-1zM489 539h3v1h-3zM504 539h3v1h-3zM544 539h1v1h-1zM488 540h1v1h-1zM507 540h3v1h-3zM543 540h1v1h-1zM419 541h1v2h-1zM487 541h1v1h-1zM510 541h2v1h-2zM542 541h1v1h-1zM486 542h1v1h-1zM512 542h3v1h-3zM541 542h1v1h-1zM420 543h1v2h-1zM484 543h2v1h-2zM515 543h3v1h-3zM540 543h1v1h-1zM483 544h1v1h-1zM518 544h2v1h-2zM539 544h1v1h-1zM421 545h1v1h-1zM482 545h1v1h-1zM520 545h4v1h-4zM538 545h1v1h-1zM422 546h1v2h-1zM481 546h1v1h-1zM524 546h4v1h-4zM534 546h4v1h-4zM480 547h1v1h-1zM528 547h6v1h-6zM423 548h1v2h-1zM478 548h2v1h-2zM477 549h1v1h-1zM424 550h1v2h-1zM476 550h1v1h-1zM474 551h2v1h-2zM425 552h1v1h-1zM473 552h1v1h-1zM426 553h1v1h-1zM471 553h2v1h-2zM427 554h1v1h-1zM470 554h1v1h-1zM428 555h1v1h-1zM468 555h2v1h-2zM429 556h1v2h-1zM466 556h2v1h-2zM464 557h2v1h-2zM430 558h1v1h-1zM462 558h2v1h-2zM431 559h1v1h-1zM459 559h3v1h-3zM432 560h1v1h-1zM456 560h3v1h-3zM433 561h3v1h-3zM452 561h4v1h-4zM436 562h4v1h-4zM446 562h6v1h-6zM440 563h6v1h-6z"/>
<rect x="0" y="25" width="1651" height="1" fill="#ff0000"/>
<rect x="217" y="41" width="1434" height="1" fill="#ff0000"/>
<rect x="217" y="59" width="1434" height="1" fill="#c0c0c0"/>
<rect x="217" y="70" width="1434" height="1" fill="#32cd32"/>
<rect x="1" y="310" width="1" height="30" fill="#000"/>
<rect x="-1" y="314" width="5" height="15" fill="#000"/>
<rect x="0" y="315" width="3" height="13" fill="#fff"/>
<rect x="9" y="310" width="1" height="11" fill="#000"/>
<rect x="7" y="314" width="5" height="2" fill="#000"/>
<rect x="17" y="312" width="1" height="36" fill="#000"/>
<rect x="15" y="314" width="5" height="27" fill="#000"/>
<rect x="25" y="336" width="1" height="94" fill="#000"/>
<rect x="23" y="340" width="5" height="71" fill="#000"/>
<rect x="33" y="399" width="1" height="69" fill="#000"/>
<rect x="31" y="410" width="5" height="46" fill="#000"/>
<rect x="41" y="380" width="1" height="91" fill="#000"/>
<rect x="39" y="384" width="5" height="72" fill="#000"/>
<rect x="40" y="385" width="3" height="70" fill="#fff"/>
<rect x="49" y="369" width="1" height="54" fill="#000"/>
<rect x="47" y="384" width="5" height="3" fill="#000"/>
<rect x="57" y="384" width="1" height="19" fill="#000"/>
<rect x="55" y="388" width="5" height="8" fill="#000"/>
<rect x="65" y="379" width="1" height="55" fill="#000"/>
<rect x="63" y="395" width="5" height="19" fill="#000"/>
<rect x="73" y="358" width="1" height="57" fill="#000"/>
<rect x="71" y="370" width="5" height="44" fill="#000"/>
<rect x="72" y="371" width="3" height="42" fill="#fff"/>
<rect x="81" y="319" width="1" height="52" fill="#000"/>
<rect x="79" y="322" width="5" height="49" fill="#000"/>
<rect x="80" y="323" width="3" height="47" fill="#fff"/>
<rect x="89" y="261" width="1" height="86" fill="#000"/>
<rect x="87" y="271" width="5" height="52" fill="#000"/>
<rect x="88" y="272" width="3" height="50" fill="#fff"/>
<rect x="97" y="257" width="1" height="24" fill="#000"/>
<rect x="95" y="265" width="5" height="7" fill="#000"/>
<rect x="96" y="266" width="3" height="5" fill="#fff"/>
<rect x="105" y="261" width="1" height="7" fill="#000"/>
<rect x="103" y="263" width="5" height="3" fill="#000"/>
<rect x="104" y="264" width="3" height="1" fill="#fff"/>
<rect x="113" y="254" width="1" height="15" fill="#000"/>
<rect x="111" y="257" width="5" height="5" fill="#000"/>
<rect x="112" y="258" width="3" height="3" fill="#fff"/>
<rect x="121" y="256" width="1" height="28" fill="#000"/>
<rect x="119" y="257" width="5" height="26" fill="#000"/>
<rect x="129" y="273" width="1" height="44" fill="#000"/>
<rect x="127" y="282" width="5" height="28" fill="#000"/>
<rect x="137" y="288" width="1" height="35" fill="#000"/>
<rect x="135" y="304" width="5" height="6" fill="#000"/>
<rect x="136" y="305" width="3" height="4" fill="#fff"/>
<rect x="145" y="230" width="1" height="78" fill="#000"/>
<rect x="143" y="242" width="5" height="62" fill="#000"/>
<rect x="144" y="243" width="3" height="60" fill="#fff"/>
<rect x="153" y="226" width="1" height="19" fill="#000"/>
<rect x="151" y="233" width="5" height="10" fill="#000"/>
<rect x="152" y="234" width="3" height="8" fill="#fff"/>
<rect x="161" y="225" width="1" height="12" fill="#000"/>
<rect x="159" y="228" width="5" height="6" fill="#000"/>
<rect x="160" y="229" width="3" height="4" fill="#fff"/>
<rect x="169" y="222" width="1" height="15" fill="#000"/>
<rect x="167" y="228" width="5" height="6" fill="#000"/>
<rect x="177" y="233" width="1" height="19" fill="#000"/>
<rect x="175" y="233" width="5" height="7" fill="#000"/>
<rect x="185" y="231" width="1" height="19" fill="#000"/>
<rect x="183" y="235" width="5" height="5" fill="#000"/>
<rect x="184" y="236" width="3" height="3" fill="#fff"/>
<rect x="193" y="227" width="1" height="41" fill="#000"/>
<rect x="191" y="235" width="5" height="3" fill="#000"/>
<rect x="201" y="236" width="1" height="27" fill="#000"/>
<rect x="199" y="236" width="5" height="22" fill="#000"/>
<rect x="209" y="253" width="1" height="17" fill="#000"/>
<rect x="207" y="256" width="5" height="13" fill="#000"/>
<rect x="217" y="250" width="1" height="22" fill="#000"/>
<rect x="215" y="269" width="5" height="1" fill="#000"/>
<rect x="225" y="254" width="1" height="36" fill="#000"/>
<rect x="223" y="268" width="5" height="3" fill="#000"/>
<rect x="233" y="251" width="1" height="29" fill="#000"/>
<rect x="231" y="253" width="5" height="18" fill="#000"/>
<rect x="232" y="254" width="3" height="16" fill="#fff"/>
<rect x="241" y="213" width="1" height="65" fill="#000"/>
<rect x="239" y="253" width="5" height="18" fill="#000"/>
<rect x="249" y="237" width="1" height="36" fill="#000"/>
<rect x="247" y="248" width="5" height="24" fill="#000"/>
<rect x="248" y="249" width="3" height="22" fill="#fff"/>
<rect x="257" y="242" width="1" height="15" fill="#000"/>
<rect x="255" y="248" width="5" height="5" fill="#000"/>
<rect x="265" y="252" width="1" height="21" fill="#000"/>
<rect x="263" y="252" width="5" height="12" fill="#000"/>
<rect x="273" y="261" width="1" height="35" fill="#000"/>
<rect x="271" y="263" width="5" height="18" fill="#000"/>
<rect x="281" y="262" width="1" height="48" fill="#000"/>
<rect x="279" y="280" width="5" height="13" fill="#000"/>
<rect x="289" y="237" width="1" height="66" fill="#000"/>
<rect x="287" y="248" width="5" height="45" fill="#000"/>
<rect x="288" y="249" width="3" height="43" fill="#fff"/>
<rect x="297" y="233" width="1" height="41" fill="#000"/>
<rect x="295" y="236" width="5" height="12" fill="#000"/>
<rect x="296" y="237" width="3" height="10" fill="#fff"/>
<rect x="305" y="232" width="1" height="24" fill="#000"/>
<rect x="303" y="236" width="5" height="17" fill="#000"/>
<rect x="313" y="230" width="1" height="32" fill="#000"/>
<rect x="311" y="234" width="5" height="19" fill="#000"/>
<rect x="312" y="235" width="3" height="17" fill="#fff"/>
<rect x="321" y="222" width="1" height="24" fill="#000"/>
<rect x="319" y="230" width="5" height="5" fill="#000"/>
<rect x="320" y="231" width="3" height="3" fill="#fff"/>
<rect x="329" y="215" width="1" height="25" fill="#000"/>
<rect x="327" y="225" width="5" height="6" fill="#000"/>
<rect x="328" y="226" width="3" height="4" fill="#fff"/>
<rect x="337" y="205" width="1" height="75" fill="#000"/>
<rect x="335" y="224" width="5" height="34" fill="#000"/>
<rect x="345" y="248" width="1" height="80" fill="#000"/>
<rect x="343" y="257" width="5" height="61" fill="#000"/>
<rect x="353" y="316" width="1" height="13" fill="#000"/>
<rect x="351" y="317" width="5" height="11" fill="#000"/>
<rect x="361" y="330" width="1" height="25" fill="#000"/>
<rect x="359" y="331" width="5" height="17" fill="#000"/>
<rect x="369" y="345" width="1" height="32" fill="#000"/>
<rect x="367" y="348" width="5" height="11" fill="#000"/>
<rect x="377" y="350" width="1" height="48" fill="#000"/>
<rect x="375" y="358" width="5" height="31" fill="#000"/>
<rect x="385" y="366" width="1" height="88" fill="#000"/>
<rect x="383" y="389" width="5" height="48" fill="#000"/>
<rect x="393" y="431" width="1" height="117" fill="#000"/>
<rect x="391" y="436" width="5" height="80" fill="#000"/>
<rect x="401" y="513" width="1" height="62" fill="#000"/>
<rect x="399" y="513" width="5" height="3" fill="#000"/>
<rect x="400" y="514" width="3" height="1" fill="#fff"/>
<rect x="409" y="485" width="1" height="31" fill="#000"/>
<rect x="407" y="490" width="5" height="25" fill="#000"/>
<rect x="408" y="491" width="3" height="23" fill="#fff"/>
<rect x="417" y="462" width="1" height="46" fill="#000"/>
<rect x="415" y="490" width="5" height="10" fill="#000"/>
<rect x="425" y="434" width="1" height="81" fill="#000"/>
<rect x="423" y="456" width="5" height="45" fill="#000"/>
<rect x="424" y="457" width="3" height="43" fill="#fff"/>
<rect x="433" y="439" width="1" height="49" fill="#000"/>
<rect x="431" y="454" width="5" height="4" fill="#000"/>
<rect x="432" y="455" width="3" height="2" fill="#fff"/>
<rect x="441" y="346" width="1" height="162" fill="#000"/>
<rect x="439" y="348" width="5" height="108" fill="#000"/>
<rect x="440" y="349" width="3" height="106" fill="#fff"/>
<rect x="449" y="334" width="1" height="35" fill="#000"/>
<rect x="447" y="348" width="5" height="15" fill="#000"/>
<rect x="457" y="339" width="1" height="25" fill="#000"/>
<rect x="455" y="341" width="5" height="21" fill="#000"/>
<rect x="456" y="342" width="3" height="19" fill="#fff"/>
<rect x="465" y="333" width="1" height="40" fill="#000"/>
<rect x="463" y="342" width="5" height="20" fill="#000"/>
<rect x="473" y="300" width="1" height="71" fill="#000"/>
<rect x="471" y="308" width="5" height="55" fill="#000"/>
<rect x="472" y="309" width="3" height="53" fill="#fff"/>
<rect x="481" y="298" width="1" height="48" fill="#000"/>
<rect x="479" y="308" width="5" height="35" fill="#000"/>
<rect x="489" y="285" width="1" height="60" fill="#000"/>
<rect x="487" y="288" width="5" height="55" fill="#000"/>
<rect x="488" y="289" width="3" height="53" fill="#fff"/>
<rect x="497" y="279" width="1" height="22" fill="#000"/>
<rect x="495" y="284" width="5" height="4" fill="#000"/>
<rect x="496" y="285" width="3" height="2" fill="#fff"/>
<rect x="505" y="267" width="1" height="19" fill="#000"/>
<rect x="503" y="273" width="5" height="11" fill="#000"/>
<rect x="504" y="274" width="3" height="9" fill="#fff"/>
<rect x="513" y="270" width="1" height="10" fill="#000"/>
<rect x="511" y="274" width="5" height="1" fill="#000"/>
<rect x="521" y="264" width="1" height="15" fill="#000"/>
<rect x="519" y="272" width="5" height="4" fill="#000"/>
<rect x="520" y="273" width="3" height="2" fill="#fff"/>
<rect x="529" y="256" width="1" height="24" fill="#000"/>
<rect x="527" y="270" width="5" height="3" fill="#000"/>
<rect x="528" y="271" width="3" height="1" fill="#fff"/>
<rect x="537" y="268" width="1" height="52" fill="#000"/>
<rect x="535" y="268" width="5" height="30" fill="#000"/>
<rect x="545" y="261" width="1" height="50" fill="#000"/>
<rect x="543" y="278" width="5" height="20" fill="#000"/>
<rect x="544" y="279" width="3" height="18" fill="#fff"/>
<rect x="553" y="260" width="1" height="18" fill="#000"/>
<rect x="551" y="265" width="5" height="13" fill="#000"/>
<rect x="552" y="266" width="3" height="11" fill="#fff"/>
<rect x="561" y="257" width="1" height="13" fill="#000"/>
<rect x="559" y="264" width="5" height="1" fill="#000"/>
<rect x="569" y="247" width="1" height="23" fill="#000"/>
<rect x="567" y="248" width="5" height="17" fill="#000"/>
<rect x="568" y="249" width="3" height="15" fill="#fff"/>
<rect x="577" y="230" width="1" height="21" fill="#000"/>
<rect x="575" y="231" width="5" height="17" fill="#000"/>
<rect x="576" y="232" width="3" height="15" fill="#fff"/>
<rect x="585" y="203" width="1" height="48" fill="#000"/>
<rect x="583" y="230" width="5" height="2" fill="#000"/>
<rect x="593" y="201" width="1" height="33" fill="#000"/>
<rect x="591" y="213" width="5" height="17" fill="#000"/>
<rect x="592" y="214" width="3" height="15" fill="#fff"/>
<rect x="601" y="209" width="1" height="8" fill="#000"/>
<rect x="599" y="212" width="5" height="3" fill="#000"/>
<rect x="609" y="211" width="1" height="10" fill="#000"/>
<rect x="607" y="213" width="5" height="6" fill="#000"/>
<rect x="617" y="216" width="1" height="42" fill="#000"/>
<rect x="615" y="218" width="5" height="37" fill="#000"/>
<rect x="625" y="248" width="1" height="29" fill="#000"/>
<rect x="623" y="252" width="5" height="23" fill="#000"/>
<rect x="633" y="232" width="1" height="62" fill="#000"/>
<rect x="631" y="236" width="5" height="39" fill="#000"/>
<rect x="632" y="237" width="3" height="37" fill="#fff"/>
<rect x="641" y="200" width="1" height="44" fill="#000"/>
<rect x="639" y="204" width="5" height="31" fill="#000"/>
<rect x="640" y="205" width="3" height="29" fill="#fff"/>
<rect x="649" y="188" width="1" height="25" fill="#000"/>
<rect x="647" y="188" width="5" height="16" fill="#000"/>
<rect x="648" y="189" width="3" height="14" fill="#fff"/>
<rect x="657" y="180" width="1" height="20" fill="#000"/>
<rect x="655" y="188" width="5" height="12" fill="#000"/>
<rect x="665" y="196" width="1" height="16" fill="#000"/>
<rect x="663" y="199" width="5" height="5" fill="#000"/>
<rect x="673" y="200" width="1" height="54" fill="#000"/>
<rect x="671" y="203" width="5" height="30" fill="#000"/>
<rect x="681" y="201" width="1" height="50" fill="#000"/>
<rect x="679" y="213" width="5" height="20" fill="#000"/>
<rect x="680" y="214" width="3" height="18" fill="#fff"/>
<rect x="689" y="209" width="1" height="51" fill="#000"/>
<rect x="687" y="213" width="5" height="19" fill="#000"/>
<rect x="697" y="210" width="1" height="54" fill="#000"/>
<rect x="695" y="211" width="5" height="21" fill="#000"/>
<rect x="696" y="212" width="3" height="19" fill="#fff"/>
<rect x="705" y="211" width="1" height="33" fill="#000"/>
<rect x="703" y="212" width="5" height="5" fill="#000"/>
<rect x="713" y="193" width="1" height="47" fill="#000"/>
<rect x="711" y="215" width="5" height="17" fill="#000"/>
<rect x="721" y="216" width="1" height="31" fill="#000"/>
<rect x="719" y="220" width="5" height="12" fill="#000"/>
<rect x="720" y="221" width="3" height="10" fill="#fff"/>
<rect x="729" y="206" width="1" height="28" fill="#000"/>
<rect x="727" y="215" width="5" height="5" fill="#000"/>
<rect x="728" y="216" width="3" height="3" fill="#fff"/>
<rect x="737" y="194" width="1" height="51" fill="#000"/>
<rect x="735" y="215" width="5" height="7" fill="#000"/>
<rect x="745" y="213" width="1" height="50" fill="#000"/>
<rect x="743" y="221" width="5" height="25" fill="#000"/>
<rect x="753" y="229" width="1" height="20" fill="#000"/>
<rect x="751" y="230" width="5" height="16" fill="#000"/>
<rect x="752" y="231" width="3" height="14" fill="#fff"/>
<rect x="761" y="228" width="1" height="33" fill="#000"/>
<rect x="759" y="230" width="5" height="17" fill="#000"/>
<rect x="769" y="210" width="1" height="37" fill="#000"/>
<rect x="767" y="218" width="5" height="29" fill="#000"/>
<rect x="768" y="219" width="3" height="27" fill="#fff"/>
<rect x="777" y="202" width="1" height="19" fill="#000"/>
<rect x="775" y="210" width="5" height="10" fill="#000"/>
<rect x="776" y="211" width="3" height="8" fill="#fff"/>
<rect x="785" y="184" width="1" height="34" fill="#000"/>
<rect x="783" y="197" width="5" height="13" fill="#000"/>
<rect x="784" y="198" width="3" height="11" fill="#fff"/>
<rect x="793" y="182" width="1" height="24" fill="#000"/>
<rect x="791" y="196" width="5" height="10" fill="#000"/>
<rect x="801" y="192" width="1" height="31" fill="#000"/>
<rect x="799" y="205" width="5" height="17" fill="#000"/>
<rect x="809" y="214" width="1" height="31" fill="#000"/>
<rect x="807" y="223" width="5" height="11" fill="#000"/>
<rect x="817" y="231" width="1" height="24" fill="#000"/>
<rect x="815" y="233" width="5" height="9" fill="#000"/>
<rect x="825" y="217" width="1" height="31" fill="#000"/>
<rect x="823" y="236" width="5" height="6" fill="#000"/>
<rect x="824" y="237" width="3" height="4" fill="#fff"/>
<rect x="833" y="200" width="1" height="47" fill="#000"/>
<rect x="831" y="236" width="5" height="1" fill="#000"/>
<rect x="841" y="230" width="1" height="36" fill="#000"/>
<rect x="839" y="236" width="5" height="9" fill="#000"/>
<rect x="849" y="232" width="1" height="13" fill="#000"/>
<rect x="847" y="236" width="5" height="8" fill="#000"/>
<rect x="848" y="237" width="3" height="6" fill="#fff"/>
<rect x="857" y="206" width="1" height="12" fill="#000"/>
<rect x="855" y="209" width="5" height="1" fill="#000"/>
<rect x="865" y="196" width="1" height="21" fill="#000"/>
<rect x="863" y="204" width="5" height="7" fill="#000"/>
<rect x="864" y="205" width="3" height="5" fill="#fff"/>
<rect x="873" y="183" width="1" height="27" fill="#000"/>
<rect x="871" y="196" width="5" height="7" fill="#000"/>
<rect x="872" y="197" width="3" height="5" fill="#fff"/>
<rect x="881" y="190" width="1" height="38" fill="#000"/>
<rect x="879" y="196" width="5" height="17" fill="#000"/>
<rect x="889" y="176" width="1" height="67" fill="#000"/>
<rect x="887" y="211" width="5" height="31" fill="#000"/>
<rect x="897" y="231" width="1" height="51" fill="#000"/>
<rect x="895" y="241" width="5" height="34" fill="#000"/>
<rect x="905" y="252" width="1" height="23" fill="#000"/>
<rect x="903" y="256" width="5" height="17" fill="#000"/>
<rect x="904" y="257" width="3" height="15" fill="#fff"/>
<rect x="913" y="238" width="1" height="27" fill="#000"/>
<rect x="911" y="253" width="5" height="1" fill="#000"/>
<rect x="921" y="228" width="1" height="29" fill="#000"/>
<rect x="919" y="236" width="5" height="18" fill="#000"/>
<rect x="920" y="237" width="3" height="16" fill="#fff"/>
<rect x="929" y="227" width="1" height="17" fill="#000"/>
<rect x="927" y="230" width="5" height="5" fill="#000"/>
<rect x="928" y="231" width="3" height="3" fill="#fff"/>
<rect x="937" y="214" width="1" height="94" fill="#000"/>
<rect x="935" y="223" width="5" height="8" fill="#000"/>
<rect x="936" y="224" width="3" height="6" fill="#fff"/>
<rect x="945" y="196" width="1" height="42" fill="#000"/>
<rect x="943" y="197" width="5" height="27" fill="#000"/>
<rect x="944" y="198" width="3" height="25" fill="#fff"/>
<rect x="953" y="198" width="1" height="17" fill="#000"/>
<rect x="951" y="198" width="5" height="14" fill="#000"/>
<rect x="961" y="202" width="1" height="16" fill="#000"/>
<rect x="959" y="208" width="5" height="4" fill="#000"/>
<rect x="960" y="209" width="3" height="2" fill="#fff"/>
<rect x="969" y="199" width="1" height="18" fill="#000"/>
<rect x="967" y="208" width="5" height="8" fill="#000"/>
<rect x="977" y="202" width="1" height="21" fill="#000"/>
<rect x="975" y="215" width="5" height="6" fill="#000"/>
<rect x="985" y="218" width="1" height="70" fill="#000"/>
<rect x="983" y="221" width="5" height="55" fill="#000"/>
<rect x="993" y="264" width="1" height="23" fill="#000"/>
<rect x="991" y="276" width="5" height="9" fill="#000"/>
<rect x="1001" y="272" width="1" height="15" fill="#000"/>
<rect x="999" y="275" width="5" height="10" fill="#000"/>
<rect x="1000" y="276" width="3" height="8" fill="#fff"/>
<rect x="1009" y="258" width="1" height="19" fill="#000"/>
<rect x="1007" y="267" width="5" height="9" fill="#000"/>
<rect x="1008" y="268" width="3" height="7" fill="#fff"/>
<rect x="1017" y="262" width="1" height="28" fill="#000"/>
<rect x="1015" y="267" width="5" height="3" fill="#000"/>
<rect x="1025" y="256" width="1" height="28" fill="#000"/>
<rect x="1023" y="266" width="5" height="3" fill="#000"/>
<rect x="1024" y="267" width="3" height="1" fill="#fff"/>
<rect x="1033" y="228" width="1" height="44" fill="#000"/>
<rect x="1031" y="231" width="5" height="35" fill="#000"/>
<rect x="1032" y="232" width="3" height="33" fill="#fff"/>
<rect x="1041" y="212" width="1" height="31" fill="#000"/>
<rect x="1039" y="212" width="5" height="19" fill="#000"/>
<rect x="1040" y="213" width="3" height="17" fill="#fff"/>
<rect x="1049" y="213" width="1" height="15" fill="#000"/>
<rect x="1047" y="213" width="5" height="15" fill="#000"/>
<rect x="1057" y="222" width="1" height="9" fill="#000"/>
<rect x="1055" y="222" width="5" height="6" fill="#000"/>
<rect x="1056" y="223" width="3" height="4" fill="#fff"/>
<rect x="1065" y="213" width="1" height="13" fill="#000"/>
<rect x="1063" y="218" width="5" height="4" fill="#000"/>
<rect x="1064" y="219" width="3" height="2" fill="#fff"/>
<rect x="1073" y="201" width="1" height="23" fill="#000"/>
<rect x="1071" y="208" width="5" height="12" fill="#000"/>
<rect x="1072" y="209" width="3" height="10" fill="#fff"/>
<rect x="1081" y="161" width="1" height="54" fill="#000"/>
<rect x="1079" y="175" width="5" height="33" fill="#000"/>
<rect x="1080" y="176" width="3" height="31" fill="#fff"/>
<rect x="1089" y="166" width="1" height="22" fill="#000"/>
<rect x="1087" y="174" width="5" height="1" fill="#000"/>
<rect x="1097" y="169" width="1" height="8" fill="#000"/>
<rect x="1095" y="170" width="5" height="4" fill="#000"/>
<rect x="1096" y="171" width="3" height="2" fill="#fff"/>
<rect x="1105" y="178" width="1" height="24" fill="#000"/>
<rect x="1103" y="178" width="5" height="20" fill="#000"/>
<rect x="1113" y="181" width="1" height="23" fill="#000"/>
<rect x="1111" y="186" width="5" height="12" fill="#000"/>
<rect x="1112" y="187" width="3" height="10" fill="#fff"/>
<rect x="1121" y="178" width="1" height="22" fill="#000"/>
<rect x="1119" y="185" width="5" height="10" fill="#000"/>
<rect x="1129" y="191" width="1" height="18" fill="#000"/>
<rect x="1127" y="194" width="5" height="5" fill="#000"/>
<rect x="1137" y="174" width="1" height="42" fill="#000"/>
<rect x="1135" y="188" width="5" height="11" fill="#000"/>
<rect x="1136" y="189" width="3" height="9" fill="#fff"/>
<rect x="1145" y="182" width="1" height="22" fill="#000"/>
<rect x="1143" y="187" width="5" height="13" fill="#000"/>
<rect x="1153" y="191" width="1" height="15" fill="#000"/>
<rect x="1151" y="198" width="5" height="3" fill="#000"/>
<rect x="1161" y="199" width="1" height="21" fill="#000"/>
<rect x="1159" y="201" width="5" height="15" fill="#000"/>
<rect x="1169" y="198" width="1" height="20" fill="#000"/>
<rect x="1167" y="205" width="5" height="11" fill="#000"/>
<rect x="1168" y="206" width="3" height="9" fill="#fff"/>
<rect x="1177" y="200" width="1" height="9" fill="#000"/>
<rect x="1175" y="202" width="5" height="1" fill="#000"/>
<rect x="1185" y="154" width="1" height="54" fill="#000"/>
<rect x="1183" y="158" width="5" height="45" fill="#000"/>
<rect x="1184" y="159" width="3" height="43" fill="#fff"/>
<rect x="1193" y="150" width="1" height="17" fill="#000"/>
<rect x="1191" y="155" width="5" height="4" fill="#000"/>
<rect x="1192" y="156" width="3" height="2" fill="#fff"/>
<rect x="1201" y="152" width="1" height="13" fill="#000"/>
<rect x="1199" y="156" width="5" height="3" fill="#000"/>
<rect x="1209" y="152" width="1" height="15" fill="#000"/>
<rect x="1207" y="157" width="5" height="4" fill="#000"/>
<rect x="1217" y="152" width="1" height="18" fill="#000"/>
<rect x="1215" y="160" width="5" height="5" fill="#000"/>
<rect x="1225" y="146" width="1" height="19" fill="#000"/>
<rect x="1223" y="154" width="5" height="10" fill="#000"/>
<rect x="1224" y="155" width="3" height="8" fill="#fff"/>
<rect x="1233" y="93" width="1" height="64" fill="#000"/>
<rect x="1231" y="111" width="5" height="43" fill="#000"/>
<rect x="1232" y="112" width="3" height="41" fill="#fff"/>
<rect x="1241" y="91" width="1" height="22" fill="#000"/>
<rect x="1239" y="96" width="5" height="15" fill="#000"/>
<rect x="1240" y="97" width="3" height="13" fill="#fff"/>
<rect x="1249" y="92" width="1" height="7" fill="#000"/>
<rect x="1247" y="94" width="5" height="3" fill="#000"/>
<rect x="1257" y="89" width="1" height="10" fill="#000"/>
<rect x="1255" y="91" width="5" height="5" fill="#000"/>
<rect x="1256" y="92" width="3" height="3" fill="#fff"/>
<rect x="1265" y="90" width="1" height="15" fill="#000"/>
<rect x="1263" y="91" width="5" height="1" fill="#000"/>
<rect x="1273" y="82" width="1" height="14" fill="#000"/>
<rect x="1271" y="87" width="5" height="4" fill="#000"/>
<rect x="1272" y="88" width="3" height="2" fill="#fff"/>
<rect x="1281" y="82" width="1" height="48" fill="#000"/>
<rect x="1279" y="87" width="5" height="32" fill="#000"/>
<rect x="1289" y="87" width="1" height="33" fill="#000"/>
<rect x="1287" y="88" width="5" height="32" fill="#000"/>
<rect x="1288" y="89" width="3" height="30" fill="#fff"/>
<rect x="1297" y="79" width="1" height="16" fill="#000"/>
<rect x="1295" y="88" width="5" height="3" fill="#000"/>
<rect x="1296" y="89" width="3" height="1" fill="#fff"/>
<rect x="1305" y="83" width="1" height="7" fill="#000"/>
<rect x="1303" y="87" width="5" height="1" fill="#000"/>
<rect x="1313" y="79" width="1" height="10" fill="#000"/>
<rect x="1311" y="81" width="5" height="7" fill="#000"/>
<rect x="1312" y="82" width="3" height="5" fill="#fff"/>
<rect x="1321" y="74" width="1" height="7" fill="#000"/>
<rect x="1319" y="76" width="5" height="4" fill="#000"/>
<rect x="1320" y="77" width="3" height="2" fill="#fff"/>
<rect x="1329" y="57" width="1" height="35" fill="#000"/>
<rect x="1327" y="75" width="5" height="2" fill="#000"/>
<rect x="1337" y="75" width="1" height="14" fill="#000"/>
<rect x="1335" y="76" width="5" height="9" fill="#000"/>
<rect x="1345" y="82" width="1" height="8" fill="#000"/>
<rect x="1343" y="83" width="5" height="5" fill="#000"/>
<rect x="1353" y="94" width="1" height="6" fill="#000"/>
<rect x="1351" y="96" width="5" height="1" fill="#000"/>
<rect x="1361" y="95" width="1" height="31" fill="#000"/>
<rect x="1359" y="96" width="5" height="23" fill="#000"/>
<rect x="1369" y="101" width="1" height="32" fill="#000"/>
<rect x="1367" y="102" width="5" height="17" fill="#000"/>
<rect x="1368" y="103" width="3" height="15" fill="#fff"/>
<rect x="1377" y="96" width="1" height="37" fill="#000"/>
<rect x="1375" y="103" width="5" height="10" fill="#000"/>
<rect x="1385" y="98" width="1" height="62" fill="#000"/>
<rect x="1383" y="102" width="5" height="11" fill="#000"/>
<rect x="1384" y="103" width="3" height="9" fill="#fff"/>
<rect x="1393" y="51" width="1" height="52" fill="#000"/>
<rect x="1391" y="52" width="5" height="51" fill="#000"/>
<rect x="1392" y="53" width="3" height="49" fill="#fff"/>
<rect x="1401" y="49" width="1" height="14" fill="#000"/>
<rect x="1399" y="54" width="5" height="6" fill="#000"/>
<rect x="1409" y="58" width="1" height="4" fill="#000"/>
<rect x="1407" y="59" width="5" height="2" fill="#000"/>
<rect x="1266" y="70" width="195" height="5" fill="#00ff00"/>
<rect x="1114" y="70" width="8" height="1" fill="#ff0000"/>
<rect x="1121.5" y="68.5" width="4" height="4" fill="#fff" stroke="#ff0000" stroke-width="1"/>
<rect x="1124.5" y="58.5" width="73" height="24" fill="#fff" stroke="#ff0000" stroke-width="1"/><text transform="translate(1161.2,79.1) scale(0.88,1)" font-family='"Liberation Sans", sans-serif' font-size="22" fill="#ff0000" text-anchor="middle" font-weight="normal">35465.5</text>
<rect x="1320" y="57" width="10" height="1" fill="#ff0000"/>
<rect x="1258.5" y="48.5" width="61" height="18" fill="#fff" stroke="#ff0000" stroke-width="1"/><text transform="translate(1289.2,64.1) scale(0.94,1)" font-family='"Liberation Sans", sans-serif' font-size="17" fill="#ff0000" text-anchor="middle" font-weight="normal">35512.8</text>
<rect x="1396" y="46" width="6" height="1" fill="#ff0000"/>
<rect x="1391.5" y="44.5" width="4" height="4" fill="#fff" stroke="#ff0000" stroke-width="1"/>
<rect x="1330.5" y="37.5" width="61" height="18" fill="#fff" stroke="#ff0000" stroke-width="1"/><text transform="translate(1361.2,53.1) scale(0.94,1)" font-family='"Liberation Sans", sans-serif' font-size="17" fill="#ff0000" text-anchor="middle" font-weight="normal">35553.2</text>
<rect x="1379" y="159" width="6" height="1" fill="#ff0000"/>
<rect x="1375.5" y="157.5" width="4" height="4" fill="#fff" stroke="#ff0000" stroke-width="1"/>
<rect x="1314.5" y="150.5" width="61" height="18" fill="#fff" stroke="#ff0000" stroke-width="1"/><text transform="translate(1345.2,166.1) scale(0.94,1)" font-family='"Liberation Sans", sans-serif' font-size="17" fill="#ff0000" text-anchor="middle" font-weight="normal">35140.0</text>
<rect x="928" y="307" width="9" height="1" fill="#ff0000"/>
<rect x="866.5" y="298.5" width="61" height="18" fill="#fff" stroke="#ff0000" stroke-width="1"/><text transform="translate(897.2,314.1) scale(0.94,1)" font-family='"Liberation Sans", sans-serif' font-size="17" fill="#ff0000" text-anchor="middle" font-weight="normal">34596.9</text>
<rect x="392" y="574" width="9" height="1" fill="#ff0000"/>
<rect x="330.5" y="566.5" width="61" height="18" fill="#fff" stroke="#ff0000" stroke-width="1"/><text transform="translate(361.2,582.1) scale(0.94,1)" font-family='"Liberation Sans", sans-serif' font-size="17" fill="#ff0000" text-anchor="middle" font-weight="normal">33619.2</text>
<polygon points="1412,22 1423,22 1417.5,27" fill="#c0c0c0" shape-rendering="auto"/>
<rect x="1466.5" y="77.5" width="110" height="24" fill="none" stroke="#404040" stroke-width="1"/>
<text x="1467.6" y="95.9" font-family='"Liberation Serif", "Noto Serif CJK SC", serif' font-size="20.5" font-weight="200" fill="#00ff00" letter-spacing="1.4">多空转折点</text>
<rect x="1519.5" y="75.5" width="2" height="2" fill="#fff" stroke="#ff00ff" stroke-width="1"/>
<rect x="1646.5" y="23.5" width="4" height="4" fill="#fff" stroke="#ff0000" stroke-width="1"/>
<rect x="1646.5" y="39.5" width="4" height="4" fill="#fff" stroke="#ff0000" stroke-width="1"/>
<rect x="1646.5" y="68.5" width="4" height="4" fill="#fff" stroke="#32cd32" stroke-width="1"/>
<rect x="1646.5" y="84.5" width="4" height="4" fill="#fff" stroke="#0000ff" stroke-width="1"/>
<rect x="1646.5" y="103.5" width="4" height="4" fill="#fff" stroke="#0000ff" stroke-width="1"/>
<rect x="1652" y="89" width="2" height="1" fill="#000"/><text transform="translate(1657,93.0) scale(0.9,1)" font-family='"Liberation Sans", sans-serif' font-size="10" fill="#000" text-anchor="start" font-weight="normal" stroke="#000" stroke-width="0.25">35394.5</text>
<rect x="1652" y="123" width="2" height="1" fill="#000"/><text transform="translate(1657,127.0) scale(0.9,1)" font-family='"Liberation Sans", sans-serif' font-size="10" fill="#000" text-anchor="start" font-weight="normal" stroke="#000" stroke-width="0.25">35272.0</text>
<rect x="1652" y="155" width="2" height="1" fill="#000"/><text transform="translate(1657,159.0) scale(0.9,1)" font-family='"Liberation Sans", sans-serif' font-size="10" fill="#000" text-anchor="start" font-weight="normal" stroke="#000" stroke-width="0.25">35153.0</text>
<rect x="1652" y="189" width="2" height="1" fill="#000"/><text transform="translate(1657,193.0) scale(0.9,1)" font-family='"Liberation Sans", sans-serif' font-size="10" fill="#000" text-anchor="start" font-weight="normal" stroke="#000" stroke-width="0.25">35030.5</text>
<rect x="1652" y="221" width="2" height="1" fill="#000"/><text transform="translate(1657,225.0) scale(0.9,1)" font-family='"Liberation Sans", sans-serif' font-size="10" fill="#000" text-anchor="start" font-weight="normal" stroke="#000" stroke-width="0.25">34911.5</text>
<rect x="1652" y="255" width="2" height="1" fill="#000"/><text transform="translate(1657,259.0) scale(0.9,1)" font-family='"Liberation Sans", sans-serif' font-size="10" fill="#000" text-anchor="start" font-weight="normal" stroke="#000" stroke-width="0.25">34789.0</text>
<rect x="1652" y="288" width="2" height="1" fill="#000"/><text transform="translate(1657,292.0) scale(0.9,1)" font-family='"Liberation Sans", sans-serif' font-size="10" fill="#000" text-anchor="start" font-weight="normal" stroke="#000" stroke-width="0.25">34666.5</text>
<rect x="1652" y="321" width="2" height="1" fill="#000"/><text transform="translate(1657,325.0) scale(0.9,1)" font-family='"Liberation Sans", sans-serif' font-size="10" fill="#000" text-anchor="start" font-weight="normal" stroke="#000" stroke-width="0.25">34547.5</text>
<rect x="1652" y="354" width="2" height="1" fill="#000"/><text transform="translate(1657,358.0) scale(0.9,1)" font-family='"Liberation Sans", sans-serif' font-size="10" fill="#000" text-anchor="start" font-weight="normal" stroke="#000" stroke-width="0.25">34425.0</text>
<rect x="1652" y="387" width="2" height="1" fill="#000"/><text transform="translate(1657,391.0) scale(0.9,1)" font-family='"Liberation Sans", sans-serif' font-size="10" fill="#000" text-anchor="start" font-weight="normal" stroke="#000" stroke-width="0.25">34306.0</text>
<rect x="1652" y="420" width="2" height="1" fill="#000"/><text transform="translate(1657,424.0) scale(0.9,1)" font-family='"Liberation Sans", sans-serif' font-size="10" fill="#000" text-anchor="start" font-weight="normal" stroke="#000" stroke-width="0.25">34183.5</text>
<rect x="1652" y="453" width="2" height="1" fill="#000"/><text transform="translate(1657,457.0) scale(0.9,1)" font-family='"Liberation Sans", sans-serif' font-size="10" fill="#000" text-anchor="start" font-weight="normal" stroke="#000" stroke-width="0.25">34064.5</text>
<rect x="1652" y="487" width="2" height="1" fill="#000"/><text transform="translate(1657,491.0) scale(0.9,1)" font-family='"Liberation Sans", sans-serif' font-size="10" fill="#000" text-anchor="start" font-weight="normal" stroke="#000" stroke-width="0.25">33942.0</text>
<rect x="1652" y="519" width="2" height="1" fill="#000"/><text transform="translate(1657,523.0) scale(0.9,1)" font-family='"Liberation Sans", sans-serif' font-size="10" fill="#000" text-anchor="start" font-weight="normal" stroke="#000" stroke-width="0.25">33823.0</text>
<rect x="1652" y="553" width="2" height="1" fill="#000"/><text transform="translate(1657,557.0) scale(0.9,1)" font-family='"Liberation Sans", sans-serif' font-size="10" fill="#000" text-anchor="start" font-weight="normal" stroke="#000" stroke-width="0.25">33700.5</text>
<rect x="1652" y="585" width="2" height="1" fill="#000"/><text transform="translate(1657,589.0) scale(0.9,1)" font-family='"Liberation Sans", sans-serif' font-size="10" fill="#000" text-anchor="start" font-weight="normal" stroke="#000" stroke-width="0.25">33581.5</text>
<rect x="1653" y="19" width="41" height="11" fill="#ff0000"/><text transform="translate(1657,28.3) scale(0.9,1)" font-family='"Liberation Sans", sans-serif' font-size="10" fill="#fff" text-anchor="start" font-weight="normal" stroke="#fff" stroke-width="0.25">35630.0</text>
<rect x="1653" y="35" width="41" height="11" fill="#ff0000"/><text transform="translate(1657,44.3) scale(0.9,1)" font-family='"Liberation Sans", sans-serif' font-size="10" fill="#fff" text-anchor="start" font-weight="normal" stroke="#fff" stroke-width="0.25">35571.5</text>
<rect x="1653" y="54" width="41" height="11" fill="#000"/><text transform="translate(1657,63.3) scale(0.9,1)" font-family='"Liberation Sans", sans-serif' font-size="10" fill="#fff" text-anchor="start" font-weight="normal" stroke="#fff" stroke-width="0.25">35506.0</text>
<rect x="1653" y="64" width="41" height="11" fill="#32cd32"/><text transform="translate(1657,73.3) scale(0.9,1)" font-family='"Liberation Sans", sans-serif' font-size="10" fill="#fff" text-anchor="start" font-weight="normal" stroke="#fff" stroke-width="0.25">35465.5</text>
<rect x="1653" y="80" width="41" height="11" fill="#0000ff"/><text transform="translate(1657,89.3) scale(0.9,1)" font-family='"Liberation Sans", sans-serif' font-size="10" fill="#fff" text-anchor="start" font-weight="normal" stroke="#fff" stroke-width="0.25">35406.9</text>
<rect x="1653" y="99" width="41" height="11" fill="#0000ff"/><text transform="translate(1657,108.3) scale(0.9,1)" font-family='"Liberation Sans", sans-serif' font-size="10" fill="#fff" text-anchor="start" font-weight="normal" stroke="#fff" stroke-width="0.25">35337.4</text>
<rect x="1" y="645" width="1" height="4" fill="#c0c0c0"/>
<rect x="9" y="644" width="1" height="5" fill="#c0c0c0"/>
<rect x="17" y="646" width="1" height="3" fill="#c0c0c0"/>
<rect x="25" y="648" width="1" height="7" fill="#c0c0c0"/>
<rect x="33" y="648" width="1" height="21" fill="#c0c0c0"/>
<rect x="41" y="648" width="1" height="22" fill="#c0c0c0"/>
<rect x="49" y="648" width="1" height="24" fill="#c0c0c0"/>
<rect x="57" y="648" width="1" height="26" fill="#c0c0c0"/>
<rect x="65" y="648" width="1" height="29" fill="#c0c0c0"/>
<rect x="73" y="648" width="1" height="26" fill="#c0c0c0"/>
<rect x="81" y="648" width="1" height="17" fill="#c0c0c0"/>
<rect x="89" y="648" width="1" height="4" fill="#c0c0c0"/>
<rect x="97" y="643" width="1" height="6" fill="#c0c0c0"/>
<rect x="105" y="634" width="1" height="15" fill="#c0c0c0"/>
<rect x="113" y="626" width="1" height="23" fill="#c0c0c0"/>
<rect x="121" y="624" width="1" height="25" fill="#c0c0c0"/>
<rect x="129" y="625" width="1" height="24" fill="#c0c0c0"/>
<rect x="137" y="626" width="1" height="23" fill="#c0c0c0"/>
<rect x="145" y="620" width="1" height="29" fill="#c0c0c0"/>
<rect x="153" y="614" width="1" height="35" fill="#c0c0c0"/>
<rect x="161" y="609" width="1" height="40" fill="#c0c0c0"/>
<rect x="169" y="606" width="1" height="43" fill="#c0c0c0"/>
<rect x="177" y="605" width="1" height="44" fill="#c0c0c0"/>
<rect x="185" y="605" width="1" height="44" fill="#c0c0c0"/>
<rect x="193" y="605" width="1" height="44" fill="#c0c0c0"/>
<rect x="201" y="608" width="1" height="41" fill="#c0c0c0"/>
<rect x="209" y="612" width="1" height="37" fill="#c0c0c0"/>
<rect x="217" y="616" width="1" height="33" fill="#c0c0c0"/>
<rect x="225" y="620" width="1" height="29" fill="#c0c0c0"/>
<rect x="233" y="621" width="1" height="28" fill="#c0c0c0"/>
<rect x="241" y="624" width="1" height="25" fill="#c0c0c0"/>
<rect x="249" y="624" width="1" height="25" fill="#c0c0c0"/>
<rect x="257" y="625" width="1" height="24" fill="#c0c0c0"/>
<rect x="265" y="627" width="1" height="22" fill="#c0c0c0"/>
<rect x="273" y="631" width="1" height="18" fill="#c0c0c0"/>
<rect x="281" y="636" width="1" height="13" fill="#c0c0c0"/>
<rect x="289" y="635" width="1" height="14" fill="#c0c0c0"/>
<rect x="297" y="633" width="1" height="16" fill="#c0c0c0"/>
<rect x="305" y="633" width="1" height="16" fill="#c0c0c0"/>
<rect x="313" y="631" width="1" height="18" fill="#c0c0c0"/>
<rect x="321" y="629" width="1" height="20" fill="#c0c0c0"/>
<rect x="329" y="628" width="1" height="21" fill="#c0c0c0"/>
<rect x="337" y="631" width="1" height="18" fill="#c0c0c0"/>
<rect x="345" y="640" width="1" height="9" fill="#c0c0c0"/>
<rect x="361" y="648" width="1" height="10" fill="#c0c0c0"/>
<rect x="369" y="648" width="1" height="19" fill="#c0c0c0"/>
<rect x="377" y="648" width="1" height="29" fill="#c0c0c0"/>
<rect x="385" y="648" width="1" height="42" fill="#c0c0c0"/>
<rect x="393" y="648" width="1" height="62" fill="#c0c0c0"/>
<rect x="401" y="648" width="1" height="77" fill="#c0c0c0"/>
<rect x="409" y="648" width="1" height="84" fill="#c0c0c0"/>
<rect x="417" y="648" width="1" height="90" fill="#c0c0c0"/>
<rect x="425" y="648" width="1" height="89" fill="#c0c0c0"/>
<rect x="433" y="648" width="1" height="87" fill="#c0c0c0"/>
<rect x="441" y="648" width="1" height="70" fill="#c0c0c0"/>
<rect x="449" y="648" width="1" height="59" fill="#c0c0c0"/>
<rect x="457" y="648" width="1" height="47" fill="#c0c0c0"/>
<rect x="465" y="648" width="1" height="40" fill="#c0c0c0"/>
<rect x="473" y="648" width="1" height="27" fill="#c0c0c0"/>
<rect x="481" y="648" width="1" height="20" fill="#c0c0c0"/>
<rect x="489" y="648" width="1" height="9" fill="#c0c0c0"/>
<rect x="497" y="648" width="1" height="1" fill="#c0c0c0"/>
<rect x="505" y="639" width="1" height="10" fill="#c0c0c0"/>
<rect x="513" y="632" width="1" height="17" fill="#c0c0c0"/>
<rect x="521" y="627" width="1" height="22" fill="#c0c0c0"/>
<rect x="529" y="622" width="1" height="27" fill="#c0c0c0"/>
<rect x="537" y="623" width="1" height="26" fill="#c0c0c0"/>
<rect x="545" y="621" width="1" height="28" fill="#c0c0c0"/>
<rect x="553" y="618" width="1" height="31" fill="#c0c0c0"/>
<rect x="561" y="616" width="1" height="33" fill="#c0c0c0"/>
<rect x="569" y="613" width="1" height="36" fill="#c0c0c0"/>
<rect x="577" y="609" width="1" height="40" fill="#c0c0c0"/>
<rect x="585" y="606" width="1" height="43" fill="#c0c0c0"/>
<rect x="593" y="603" width="1" height="46" fill="#c0c0c0"/>
<rect x="601" y="600" width="1" height="49" fill="#c0c0c0"/>
<rect x="609" y="600" width="1" height="49" fill="#c0c0c0"/>
<rect x="617" y="604" width="1" height="45" fill="#c0c0c0"/>
<rect x="625" y="610" width="1" height="39" fill="#c0c0c0"/>
<rect x="633" y="611" width="1" height="38" fill="#c0c0c0"/>
<rect x="641" y="608" width="1" height="41" fill="#c0c0c0"/>
<rect x="649" y="604" width="1" height="45" fill="#c0c0c0"/>
<rect x="657" y="603" width="1" height="46" fill="#c0c0c0"/>
<rect x="665" y="604" width="1" height="45" fill="#c0c0c0"/>
<rect x="673" y="608" width="1" height="41" fill="#c0c0c0"/>
<rect x="681" y="609" width="1" height="40" fill="#c0c0c0"/>
<rect x="689" y="613" width="1" height="36" fill="#c0c0c0"/>
<rect x="697" y="614" width="1" height="35" fill="#c0c0c0"/>
<rect x="705" y="616" width="1" height="33" fill="#c0c0c0"/>
<rect x="713" y="619" width="1" height="30" fill="#c0c0c0"/>
<rect x="721" y="621" width="1" height="28" fill="#c0c0c0"/>
<rect x="729" y="622" width="1" height="27" fill="#c0c0c0"/>
<rect x="737" y="624" width="1" height="25" fill="#c0c0c0"/>
<rect x="745" y="629" width="1" height="20" fill="#c0c0c0"/>
<rect x="753" y="631" width="1" height="18" fill="#c0c0c0"/>
<rect x="761" y="635" width="1" height="14" fill="#c0c0c0"/>
<rect x="769" y="635" width="1" height="14" fill="#c0c0c0"/>
<rect x="777" y="634" width="1" height="15" fill="#c0c0c0"/>
<rect x="785" y="631" width="1" height="18" fill="#c0c0c0"/>
<rect x="793" y="631" width="1" height="18" fill="#c0c0c0"/>
<rect x="801" y="633" width="1" height="16" fill="#c0c0c0"/>
<rect x="809" y="636" width="1" height="13" fill="#c0c0c0"/>
<rect x="817" y="639" width="1" height="10" fill="#c0c0c0"/>
<rect x="825" y="642" width="1" height="7" fill="#c0c0c0"/>
<rect x="833" y="643" width="1" height="6" fill="#c0c0c0"/>
<rect x="841" y="646" width="1" height="3" fill="#c0c0c0"/>
<rect x="849" y="647" width="1" height="2" fill="#c0c0c0"/>
<rect x="857" y="644" width="1" height="5" fill="#c0c0c0"/>
<rect x="865" y="642" width="1" height="7" fill="#c0c0c0"/>
<rect x="873" y="639" width="1" height="10" fill="#c0c0c0"/>
<rect x="881" y="639" width="1" height="10" fill="#c0c0c0"/>
<rect x="889" y="642" width="1" height="7" fill="#c0c0c0"/>
<rect x="905" y="648" width="1" height="2" fill="#c0c0c0"/>
<rect x="913" y="648" width="1" height="4" fill="#c0c0c0"/>
<rect x="921" y="648" width="1" height="4" fill="#c0c0c0"/>
<rect x="929" y="648" width="1" height="3" fill="#c0c0c0"/>
<rect x="945" y="646" width="1" height="3" fill="#c0c0c0"/>
<rect x="953" y="645" width="1" height="4" fill="#c0c0c0"/>
<rect x="961" y="643" width="1" height="6" fill="#c0c0c0"/>
<rect x="969" y="642" width="1" height="7" fill="#c0c0c0"/>
<rect x="977" y="643" width="1" height="6" fill="#c0c0c0"/>
<rect x="993" y="648" width="1" height="7" fill="#c0c0c0"/>
<rect x="1001" y="648" width="1" height="11" fill="#c0c0c0"/>
<rect x="1009" y="648" width="1" height="12" fill="#c0c0c0"/>
<rect x="1017" y="648" width="1" height="14" fill="#c0c0c0"/>
<rect x="1025" y="648" width="1" height="16" fill="#c0c0c0"/>
<rect x="1033" y="648" width="1" height="12" fill="#c0c0c0"/>
<rect x="1041" y="648" width="1" height="7" fill="#c0c0c0"/>
<rect x="1049" y="648" width="1" height="4" fill="#c0c0c0"/>
<rect x="1057" y="648" width="1" height="1" fill="#c0c0c0"/>
<rect x="1065" y="648" width="1" height="1" fill="#c0c0c0"/>
<rect x="1073" y="645" width="1" height="4" fill="#c0c0c0"/>
<rect x="1081" y="638" width="1" height="11" fill="#c0c0c0"/>
<rect x="1089" y="633" width="1" height="16" fill="#c0c0c0"/>
<rect x="1097" y="629" width="1" height="20" fill="#c0c0c0"/>
<rect x="1105" y="629" width="1" height="20" fill="#c0c0c0"/>
<rect x="1113" y="628" width="1" height="21" fill="#c0c0c0"/>
<rect x="1121" y="628" width="1" height="21" fill="#c0c0c0"/>
<rect x="1129" y="630" width="1" height="19" fill="#c0c0c0"/>
<rect x="1137" y="629" width="1" height="20" fill="#c0c0c0"/>
<rect x="1145" y="631" width="1" height="18" fill="#c0c0c0"/>
<rect x="1153" y="632" width="1" height="17" fill="#c0c0c0"/>
<rect x="1161" y="635" width="1" height="14" fill="#c0c0c0"/>
<rect x="1169" y="637" width="1" height="12" fill="#c0c0c0"/>
<rect x="1177" y="638" width="1" height="11" fill="#c0c0c0"/>
<rect x="1185" y="633" width="1" height="16" fill="#c0c0c0"/>
<rect x="1193" y="630" width="1" height="19" fill="#c0c0c0"/>
<rect x="1201" y="627" width="1" height="22" fill="#c0c0c0"/>
<rect x="1209" y="626" width="1" height="23" fill="#c0c0c0"/>
<rect x="1217" y="626" width="1" height="23" fill="#c0c0c0"/>
<rect x="1225" y="624" width="1" height="25" fill="#c0c0c0"/>
<rect x="1233" y="618" width="1" height="31" fill="#c0c0c0"/>
<rect x="1241" y="612" width="1" height="37" fill="#c0c0c0"/>
<rect x="1249" y="608" width="1" height="41" fill="#c0c0c0"/>
<rect x="1257" y="604" width="1" height="45" fill="#c0c0c0"/>
<rect x="1265" y="602" width="1" height="47" fill="#c0c0c0"/>
<rect x="1273" y="600" width="1" height="49" fill="#c0c0c0"/>
<rect x="1281" y="603" width="1" height="46" fill="#c0c0c0"/>
<rect x="1289" y="603" width="1" height="46" fill="#c0c0c0"/>
<rect x="1297" y="602" width="1" height="47" fill="#c0c0c0"/>
<rect x="1305" y="602" width="1" height="47" fill="#c0c0c0"/>
<rect x="1313" y="602" width="1" height="47" fill="#c0c0c0"/>
<rect x="1321" y="602" width="1" height="47" fill="#c0c0c0"/>
<rect x="1329" y="602" width="1" height="47" fill="#c0c0c0"/>
<rect x="1337" y="605" width="1" height="44" fill="#c0c0c0"/>
<rect x="1345" y="608" width="1" height="41" fill="#c0c0c0"/>
<rect x="1353" y="611" width="1" height="38" fill="#c0c0c0"/>
<rect x="1361" y="617" width="1" height="32" fill="#c0c0c0"/>
<rect x="1369" y="620" width="1" height="29" fill="#c0c0c0"/>
<rect x="1377" y="624" width="1" height="25" fill="#c0c0c0"/>
<rect x="1385" y="627" width="1" height="22" fill="#c0c0c0"/>
<rect x="1393" y="622" width="1" height="27" fill="#c0c0c0"/>
<rect x="1401" y="619" width="1" height="30" fill="#c0c0c0"/>
<rect x="1409" y="618" width="1" height="31" fill="#c0c0c0"/>
<path fill="#ff0000" d="M1317 602h3v1h-3zM1323 602h3v1h-3zM1329 602h3v1h-3zM1335 602h3v1h-3zM1341 602h3v1h-3zM1311 603h3v1h-3zM1347 603h3v1h-3zM657 604h3v1h-3zM663 604h3v1h-3zM1305 604h3v1h-3zM1353 604h3v1h-3zM639 605h3v1h-3zM645 605h3v1h-3zM651 605h3v1h-3zM669 605h3v1h-3zM675 605h3v1h-3zM1299 605h3v1h-3zM1359 605h3v1h-3zM623 606h1v1h-1zM627 606h3v1h-3zM633 606h3v1h-3zM681 606h3v1h-3zM687 606h1v1h-1zM1293 606h3v1h-3zM1365 606h3v1h-3zM615 607h3v1h-3zM621 607h2v1h-2zM688 607h2v1h-2zM693 607h3v1h-3zM1289 607h1v1h-1zM1371 607h1v1h-1zM215 608h3v1h-3zM610 608h2v1h-2zM699 608h3v1h-3zM705 608h3v1h-3zM1287 608h2v1h-2zM1372 608h2v1h-2zM204 609h2v1h-2zM209 609h3v1h-3zM221 609h3v1h-3zM609 609h1v1h-1zM711 609h3v1h-3zM1282 609h2v1h-2zM203 610h1v1h-1zM227 610h3v1h-3zM603 610h3v1h-3zM717 610h2v1h-2zM1281 610h1v1h-1zM1377 610h3v1h-3zM197 611h3v1h-3zM233 611h3v1h-3zM599 611h1v1h-1zM719 611h1v1h-1zM1277 611h1v1h-1zM239 612h3v1h-3zM597 612h2v1h-2zM723 612h3v1h-3zM1275 612h2v1h-2zM1383 612h3v1h-3zM191 613h3v1h-3zM245 613h3v1h-3zM593 613h1v1h-1zM729 613h1v1h-1zM1389 613h2v1h-2zM187 614h1v1h-1zM251 614h1v1h-1zM591 614h2v1h-2zM730 614h2v1h-2zM1269 614h3v1h-3zM1391 614h1v1h-1zM185 615h2v1h-2zM252 615h2v1h-2zM735 615h2v1h-2zM1265 615h1v1h-1zM1395 615h3v1h-3zM179 616h3v1h-3zM257 616h2v1h-2zM585 616h3v1h-3zM737 616h1v1h-1zM1263 616h2v1h-2zM1401 616h1v1h-1zM175 617h1v1h-1zM259 617h1v1h-1zM741 617h3v1h-3zM1259 617h1v1h-1zM1402 617h2v1h-2zM173 618h2v1h-2zM263 618h3v1h-3zM580 618h2v1h-2zM747 618h1v1h-1zM1257 618h2v1h-2zM579 619h1v1h-1zM748 619h2v1h-2zM269 620h3v1h-3zM575 620h1v1h-1zM753 620h2v1h-2zM1252 620h2v1h-2zM168 621h2v1h-2zM573 621h2v1h-2zM755 621h1v1h-1zM1251 621h1v1h-1zM167 622h1v1h-1zM275 622h3v1h-3zM759 622h1v1h-1zM568 623h2v1h-2zM760 623h2v1h-2zM1247 623h1v1h-1zM163 624h1v1h-1zM281 624h3v1h-3zM567 624h1v1h-1zM1245 624h2v1h-2zM161 625h2v1h-2zM287 625h2v1h-2zM765 625h3v1h-3zM289 626h1v1h-1zM562 626h2v1h-2zM771 626h3v1h-3zM1239 626h3v1h-3zM157 627h1v1h-1zM293 627h3v1h-3zM561 627h1v1h-1zM777 627h3v1h-3zM1235 627h1v1h-1zM155 628h2v1h-2zM299 628h2v1h-2zM783 628h3v1h-3zM1233 628h2v1h-2zM301 629h1v1h-1zM556 629h2v1h-2zM789 629h3v1h-3zM1151 629h1v1h-1zM1155 629h3v1h-3zM1161 629h2v1h-2zM1227 629h3v1h-3zM305 630h3v1h-3zM311 630h3v1h-3zM317 630h3v1h-3zM323 630h3v1h-3zM555 630h1v1h-1zM795 630h3v1h-3zM801 630h2v1h-2zM1143 630h3v1h-3zM1149 630h2v1h-2zM1163 630h1v1h-1zM1167 630h3v1h-3zM1222 630h2v1h-2zM151 631h1v1h-1zM329 631h3v1h-3zM335 631h3v1h-3zM803 631h1v1h-1zM807 631h3v1h-3zM1139 631h1v1h-1zM1173 631h3v1h-3zM1215 631h3v1h-3zM1221 631h1v1h-1zM149 632h2v1h-2zM341 632h3v1h-3zM347 632h3v1h-3zM813 632h3v1h-3zM1137 632h2v1h-2zM1179 632h3v1h-3zM1185 632h3v1h-3zM1191 632h3v1h-3zM1197 632h3v1h-3zM1203 632h3v1h-3zM1209 632h3v1h-3zM353 633h3v1h-3zM550 633h2v1h-2zM819 633h3v1h-3zM1131 633h3v1h-3zM0 634h2v1h-2zM549 634h1v1h-1zM825 634h3v1h-3zM1126 634h2v1h-2zM145 635h1v1h-1zM359 635h2v1h-2zM831 635h3v1h-3zM837 635h3v1h-3zM1125 635h1v1h-1zM5 636h1v1h-1zM144 636h1v1h-1zM361 636h1v1h-1zM843 636h3v1h-3zM1119 636h3v1h-3zM6 637h2v1h-2zM143 637h1v1h-1zM545 637h1v1h-1zM849 637h1v1h-1zM365 638h2v1h-2zM544 638h1v1h-1zM850 638h2v1h-2zM1114 638h2v1h-2zM11 639h1v1h-1zM367 639h1v1h-1zM543 639h1v1h-1zM855 639h3v1h-3zM1113 639h1v1h-1zM12 640h2v1h-2zM139 640h1v1h-1zM861 640h3v1h-3zM867 640h3v1h-3zM1109 640h1v1h-1zM137 641h2v1h-2zM371 641h2v1h-2zM873 641h3v1h-3zM1107 641h2v1h-2zM17 642h2v1h-2zM373 642h1v1h-1zM538 642h2v1h-2zM879 642h3v1h-3zM885 642h3v1h-3zM891 642h3v1h-3zM897 642h3v1h-3zM19 643h1v1h-1zM537 643h1v1h-1zM903 643h3v1h-3zM1102 643h2v1h-2zM23 644h1v1h-1zM133 644h1v1h-1zM377 644h1v1h-1zM909 644h3v1h-3zM1101 644h1v1h-1zM24 645h2v1h-2zM132 645h1v1h-1zM378 645h2v1h-2zM915 645h3v1h-3zM29 646h1v1h-1zM131 646h1v1h-1zM533 646h1v1h-1zM921 646h3v1h-3zM1096 646h2v1h-2zM30 647h2v1h-2zM532 647h1v1h-1zM927 647h3v1h-3zM933 647h3v1h-3zM976 647h2v1h-2zM981 647h3v1h-3zM987 647h3v1h-3zM993 647h3v1h-3zM999 647h1v1h-1zM1095 647h1v1h-1zM35 648h1v1h-1zM383 648h2v1h-2zM531 648h1v1h-1zM939 648h3v1h-3zM945 648h3v1h-3zM964 648h2v1h-2zM969 648h3v1h-3zM975 648h1v1h-1zM1000 648h2v1h-2zM1005 648h2v1h-2zM1091 648h1v1h-1zM36 649h2v1h-2zM126 649h2v1h-2zM385 649h1v1h-1zM951 649h3v1h-3zM957 649h3v1h-3zM963 649h1v1h-1zM1007 649h1v1h-1zM1089 649h2v1h-2zM125 650h1v1h-1zM1011 650h3v1h-3zM41 651h2v1h-2zM527 651h1v1h-1zM1017 651h3v1h-3zM1084 651h2v1h-2zM43 652h1v1h-1zM121 652h1v1h-1zM526 652h1v1h-1zM1023 652h1v1h-1zM1083 652h1v1h-1zM120 653h1v1h-1zM388 653h1v1h-1zM525 653h1v1h-1zM1024 653h2v1h-2zM1079 653h1v1h-1zM47 654h2v1h-2zM119 654h1v1h-1zM389 654h1v2h-1zM1029 654h2v1h-2zM1077 654h2v1h-2zM49 655h1v1h-1zM1031 655h1v1h-1zM1073 655h1v1h-1zM53 656h1v1h-1zM115 656h1v1h-1zM1035 656h3v1h-3zM1071 656h2v1h-2zM54 657h2v1h-2zM113 657h2v1h-2zM522 657h1v1h-1zM1041 657h3v1h-3zM1065 657h3v1h-3zM521 658h1v1h-1zM1047 658h3v1h-3zM1053 658h3v1h-3zM1059 658h3v1h-3zM59 659h2v1h-2zM392 659h1v1h-1zM520 659h1v1h-1zM61 660h1v1h-1zM108 660h2v1h-2zM393 660h1v1h-1zM65 661h1v1h-1zM107 661h1v1h-1zM394 661h1v1h-1zM66 662h2v1h-2zM71 663h1v1h-1zM103 663h1v1h-1zM516 663h1v1h-1zM72 664h2v1h-2zM101 664h2v1h-2zM515 664h1v1h-1zM396 665h1v1h-1zM514 665h1v1h-1zM77 666h3v1h-3zM97 666h1v1h-1zM397 666h1v1h-1zM83 667h1v1h-1zM91 667h1v1h-1zM95 667h2v1h-2zM398 667h1v1h-1zM84 668h2v1h-2zM89 668h2v1h-2zM511 669h1v2h-1zM400 671h1v1h-1zM510 671h1v1h-1zM401 672h1v2h-1zM507 675h1v1h-1zM506 676h1v1h-1zM404 677h1v1h-1zM505 677h1v1h-1zM405 678h1v1h-1zM406 679h1v1h-1zM502 681h1v1h-1zM501 682h1v2h-1zM409 683h1v2h-1zM410 685h1v1h-1zM497 687h1v2h-1zM413 689h1v1h-1zM496 689h1v1h-1zM414 690h1v1h-1zM415 691h1v1h-1zM493 693h1v1h-1zM492 694h1v1h-1zM418 695h1v1h-1zM491 695h1v1h-1zM419 696h1v1h-1zM420 697h1v1h-1zM488 699h1v1h-1zM487 700h1v1h-1zM423 701h1v1h-1zM486 701h1v1h-1zM424 702h1v2h-1zM483 705h1v2h-1zM428 707h1v1h-1zM482 707h1v1h-1zM429 708h1v1h-1zM430 709h1v1h-1zM478 711h1v1h-1zM477 712h1v1h-1zM434 713h1v1h-1zM476 713h1v1h-1zM435 714h1v1h-1zM436 715h1v1h-1zM472 716h1v1h-1zM471 717h1v1h-1zM440 718h1v1h-1zM470 718h1v1h-1zM441 719h2v1h-2zM466 720h1v1h-1zM446 721h3v1h-3zM464 721h2v1h-2zM459 722h2v1h-2zM452 723h3v1h-3zM458 723h1v1h-1z"/>
<text transform="translate(-1,603) scale(0.93,1)" font-family='"Liberation Sans", sans-serif' font-size="10" fill="#000" text-anchor="start" font-weight="normal" stroke="#000" stroke-width="0.25">MACD(12,26,9) 74.09 74.21</text>
<rect x="1652" y="648" width="2" height="1" fill="#000"/>
<rect x="1652" y="592" width="2" height="1" fill="#000"/>
<text transform="translate(1655,652.2) scale(0.9,1)" font-family='"Liberation Sans", sans-serif' font-size="10" fill="#000" text-anchor="start" font-weight="normal" stroke="#000" stroke-width="0.25">0.00</text>
<text transform="translate(1655,601.2) scale(0.9,1)" font-family='"Liberation Sans", sans-serif' font-size="10" fill="#000" text-anchor="start" font-weight="normal" stroke="#000" stroke-width="0.25">135.89</text>
<text transform="translate(1655,743.7) scale(0.9,1)" font-family='"Liberation Sans", sans-serif' font-size="10" fill="#000" text-anchor="start" font-weight="normal" stroke="#000" stroke-width="0.25">-232.22</text>
<line x1="0" y1="784.5" x2="1651" y2="784.5" stroke="#c0c0c0" stroke-width="1" stroke-dasharray="3,3"/>
<rect x="1652" y="784" width="2" height="1" fill="#000"/>
<line x1="0" y1="835.5" x2="1651" y2="835.5" stroke="#c0c0c0" stroke-width="1" stroke-dasharray="3,3"/>
<rect x="1652" y="835" width="2" height="1" fill="#000"/>
<line x1="0" y1="896.5" x2="1651" y2="896.5" stroke="#c0c0c0" stroke-width="1" stroke-dasharray="3,3"/>
<rect x="1652" y="896" width="2" height="1" fill="#000"/>
<path fill="#1e90ff" d="M1270 791h4v1h-4zM1254 792h16v1h-16zM1273 792h1v1h-1zM1246 793h8v1h-8zM1274 793h1v3h-1zM1240 794h6v1h-6zM1238 795h2v1h-2zM1235 796h3v1h-3zM1275 796h1v3h-1zM1233 797h2v1h-2zM1232 798h1v2h-1zM1276 799h1v3h-1zM1231 800h1v2h-1zM1320 800h4v1h-4zM1316 801h4v1h-4zM1324 801h4v1h-4zM1230 802h1v2h-1zM1277 802h1v4h-1zM1312 802h4v1h-4zM1328 802h2v1h-2zM1310 803h2v1h-2zM1330 803h2v1h-2zM1229 804h1v2h-1zM1307 804h3v1h-3zM1332 804h1v1h-1zM1289 805h18v1h-18zM1333 805h1v1h-1zM1228 806h1v2h-1zM1278 806h1v3h-1zM1288 806h1v2h-1zM1334 806h2v1h-2zM593 807h11v1h-11zM1336 807h1v1h-1zM1393 807h2v1h-2zM591 808h2v1h-2zM604 808h4v1h-4zM1227 808h1v2h-1zM1287 808h1v1h-1zM1337 808h2v1h-2zM1393 808h1v1h-1zM1395 808h3v1h-3zM589 809h2v1h-2zM608 809h2v1h-2zM1094 809h4v1h-4zM1279 809h1v3h-1zM1286 809h1v1h-1zM1339 809h3v1h-3zM1392 809h1v2h-1zM1398 809h2v1h-2zM587 810h2v1h-2zM609 810h1v1h-1zM648 810h3v1h-3zM1081 810h13v1h-13zM1098 810h1v2h-1zM1226 810h1v2h-1zM1285 810h1v2h-1zM1342 810h2v1h-2zM1400 810h10v1h-10zM577 811h10v1h-10zM610 811h1v2h-1zM646 811h2v1h-2zM651 811h2v1h-2zM1080 811h1v2h-1zM1190 811h8v1h-8zM1344 811h2v1h-2zM1391 811h1v3h-1zM158 812h6v1h-6zM575 812h2v1h-2zM643 812h3v1h-3zM653 812h2v1h-2zM1099 812h1v2h-1zM1185 812h5v1h-5zM1198 812h6v1h-6zM1225 812h1v1h-1zM1280 812h1v3h-1zM1284 812h1v1h-1zM1346 812h1v1h-1zM112 813h2v1h-2zM152 813h6v1h-6zM164 813h4v1h-4zM573 813h2v1h-2zM611 813h1v2h-1zM641 813h2v1h-2zM655 813h2v1h-2zM1079 813h1v1h-1zM1185 813h1v1h-1zM1204 813h4v1h-4zM1223 813h2v1h-2zM1283 813h1v1h-1zM1347 813h1v1h-1zM108 814h4v1h-4zM114 814h1v1h-1zM148 814h4v1h-4zM168 814h4v1h-4zM571 814h2v1h-2zM640 814h1v1h-1zM657 814h3v1h-3zM1078 814h1v2h-1zM1100 814h1v2h-1zM1184 814h1v2h-1zM1208 814h3v1h-3zM1222 814h1v1h-1zM1282 814h1v2h-1zM1348 814h2v1h-2zM1390 814h1v2h-1zM96 815h12v1h-12zM115 815h1v1h-1zM145 815h3v1h-3zM172 815h4v1h-4zM182 815h6v1h-6zM569 815h2v1h-2zM612 815h1v2h-1zM639 815h1v1h-1zM660 815h4v1h-4zM1211 815h3v1h-3zM1220 815h2v1h-2zM1281 815h1v2h-1zM1350 815h1v1h-1zM92 816h4v1h-4zM116 816h1v1h-1zM144 816h1v2h-1zM176 816h6v1h-6zM188 816h4v1h-4zM567 816h2v1h-2zM638 816h1v1h-1zM664 816h2v1h-2zM1077 816h1v1h-1zM1101 816h1v2h-1zM1183 816h1v3h-1zM1214 816h2v1h-2zM1218 816h2v1h-2zM1351 816h1v1h-1zM1389 816h1v3h-1zM89 817h3v1h-3zM117 817h1v2h-1zM192 817h2v1h-2zM565 817h2v1h-2zM613 817h1v3h-1zM637 817h1v2h-1zM666 817h1v2h-1zM1076 817h1v2h-1zM1216 817h2v1h-2zM1352 817h1v1h-1zM88 818h1v1h-1zM143 818h1v2h-1zM194 818h1v1h-1zM526 818h4v1h-4zM563 818h2v1h-2zM1102 818h1v2h-1zM1353 818h1v2h-1zM87 819h1v2h-1zM118 819h1v1h-1zM195 819h1v1h-1zM504 819h22v1h-22zM530 819h1v1h-1zM558 819h5v1h-5zM636 819h1v1h-1zM667 819h1v1h-1zM872 819h2v1h-2zM1075 819h1v1h-1zM1182 819h1v2h-1zM1388 819h1v2h-1zM119 820h1v1h-1zM142 820h1v2h-1zM196 820h1v1h-1zM326 820h4v1h-4zM500 820h4v1h-4zM531 820h1v1h-1zM552 820h6v1h-6zM614 820h1v2h-1zM635 820h1v1h-1zM668 820h1v2h-1zM870 820h2v1h-2zM874 820h1v1h-1zM945 820h1v1h-1zM1074 820h1v2h-1zM1103 820h1v2h-1zM1113 820h1v1h-1zM1354 820h1v2h-1zM86 821h1v1h-1zM120 821h1v1h-1zM197 821h1v1h-1zM297 821h1v1h-1zM320 821h6v1h-6zM330 821h1v2h-1zM489 821h11v1h-11zM532 821h1v1h-1zM550 821h2v1h-2zM634 821h1v1h-1zM785 821h2v1h-2zM867 821h3v1h-3zM875 821h1v1h-1zM944 821h1v2h-1zM946 821h1v1h-1zM1111 821h2v1h-2zM1114 821h2v1h-2zM1181 821h1v3h-1zM1387 821h1v3h-1zM85 822h1v1h-1zM121 822h1v1h-1zM141 822h1v1h-1zM198 822h1v1h-1zM295 822h2v1h-2zM298 822h1v1h-1zM316 822h4v1h-4zM488 822h1v2h-1zM533 822h1v2h-1zM547 822h3v1h-3zM615 822h1v2h-1zM633 822h1v1h-1zM669 822h1v1h-1zM681 822h1v1h-1zM783 822h2v1h-2zM787 822h2v1h-2zM864 822h3v1h-3zM876 822h1v1h-1zM947 822h1v1h-1zM1073 822h1v1h-1zM1104 822h1v2h-1zM1109 822h2v1h-2zM1116 822h2v1h-2zM1137 822h1v1h-1zM1355 822h1v2h-1zM84 823h1v1h-1zM122 823h1v1h-1zM140 823h1v2h-1zM199 823h1v1h-1zM233 823h1v1h-1zM249 823h3v1h-3zM293 823h2v1h-2zM299 823h1v1h-1zM313 823h3v1h-3zM331 823h1v2h-1zM545 823h2v1h-2zM632 823h1v2h-1zM670 823h1v2h-1zM680 823h1v1h-1zM682 823h1v1h-1zM697 823h3v1h-3zM781 823h2v1h-2zM789 823h2v1h-2zM862 823h2v1h-2zM877 823h1v2h-1zM943 823h1v1h-1zM948 823h1v1h-1zM1041 823h1v1h-1zM1071 823h2v1h-2zM1107 823h2v1h-2zM1118 823h1v1h-1zM1135 823h2v1h-2zM1138 823h1v1h-1zM83 824h1v2h-1zM123 824h1v1h-1zM200 824h1v1h-1zM232 824h1v1h-1zM234 824h1v1h-1zM248 824h1v1h-1zM252 824h4v1h-4zM291 824h2v1h-2zM300 824h2v1h-2zM311 824h2v1h-2zM473 824h1v1h-1zM487 824h1v1h-1zM534 824h1v1h-1zM543 824h2v1h-2zM616 824h1v2h-1zM678 824h2v1h-2zM683 824h1v1h-1zM696 824h1v1h-1zM700 824h4v1h-4zM779 824h2v1h-2zM791 824h2v1h-2zM859 824h3v1h-3zM942 824h1v1h-1zM949 824h1v1h-1zM1040 824h1v1h-1zM1042 824h1v1h-1zM1070 824h1v1h-1zM1105 824h2v1h-2zM1119 824h2v1h-2zM1134 824h1v1h-1zM1139 824h1v1h-1zM1180 824h1v2h-1zM1356 824h1v2h-1zM1386 824h1v2h-1zM124 825h1v1h-1zM139 825h1v2h-1zM201 825h2v1h-2zM231 825h1v1h-1zM235 825h1v1h-1zM247 825h1v1h-1zM256 825h3v1h-3zM289 825h2v1h-2zM302 825h1v1h-1zM310 825h1v1h-1zM332 825h1v2h-1zM472 825h1v2h-1zM474 825h1v1h-1zM486 825h1v1h-1zM535 825h1v1h-1zM541 825h2v1h-2zM631 825h1v1h-1zM671 825h1v1h-1zM677 825h1v1h-1zM684 825h2v1h-2zM694 825h2v1h-2zM704 825h2v1h-2zM728 825h3v1h-3zM776 825h3v1h-3zM793 825h1v1h-1zM857 825h2v1h-2zM878 825h1v1h-1zM941 825h1v2h-1zM950 825h1v1h-1zM1039 825h1v1h-1zM1043 825h1v1h-1zM1068 825h2v1h-2zM1121 825h3v1h-3zM1132 825h2v1h-2zM1140 825h2v1h-2zM1369 825h1v1h-1zM82 826h1v1h-1zM125 826h1v1h-1zM203 826h2v1h-2zM230 826h1v1h-1zM236 826h1v1h-1zM246 826h1v1h-1zM259 826h2v1h-2zM289 826h1v1h-1zM303 826h1v1h-1zM308 826h2v1h-2zM475 826h1v1h-1zM485 826h1v2h-1zM536 826h1v1h-1zM539 826h2v1h-2zM617 826h1v2h-1zM630 826h1v1h-1zM672 826h1v2h-1zM676 826h1v1h-1zM686 826h1v1h-1zM693 826h1v1h-1zM706 826h2v1h-2zM724 826h4v1h-4zM731 826h3v1h-3zM774 826h2v1h-2zM794 826h1v1h-1zM856 826h1v2h-1zM879 826h1v1h-1zM951 826h1v1h-1zM960 826h3v1h-3zM1038 826h1v1h-1zM1044 826h2v1h-2zM1066 826h2v1h-2zM1124 826h4v1h-4zM1130 826h2v1h-2zM1142 826h1v1h-1zM1179 826h1v3h-1zM1357 826h1v2h-1zM1368 826h1v1h-1zM1370 826h1v1h-1zM1385 826h1v2h-1zM81 827h1v1h-1zM126 827h1v1h-1zM138 827h1v2h-1zM205 827h2v1h-2zM228 827h2v1h-2zM237 827h1v2h-1zM245 827h1v2h-1zM261 827h2v1h-2zM288 827h1v2h-1zM304 827h1v1h-1zM306 827h2v1h-2zM333 827h1v1h-1zM471 827h1v1h-1zM476 827h1v1h-1zM537 827h2v1h-2zM629 827h1v2h-1zM674 827h2v1h-2zM687 827h1v1h-1zM692 827h1v1h-1zM708 827h1v1h-1zM721 827h3v1h-3zM734 827h2v1h-2zM771 827h3v1h-3zM795 827h1v1h-1zM880 827h1v1h-1zM940 827h1v1h-1zM952 827h1v1h-1zM956 827h4v1h-4zM963 827h2v1h-2zM1037 827h1v2h-1zM1046 827h1v1h-1zM1062 827h4v1h-4zM1128 827h2v1h-2zM1143 827h1v1h-1zM1367 827h1v2h-1zM1371 827h1v1h-1zM80 828h1v2h-1zM127 828h1v1h-1zM207 828h2v1h-2zM227 828h1v1h-1zM263 828h2v1h-2zM305 828h1v1h-1zM334 828h1v2h-1zM470 828h1v1h-1zM477 828h1v1h-1zM484 828h1v1h-1zM618 828h2v1h-2zM673 828h1v1h-1zM688 828h1v1h-1zM690 828h2v1h-2zM709 828h1v1h-1zM719 828h2v1h-2zM736 828h2v1h-2zM769 828h2v1h-2zM796 828h2v1h-2zM855 828h1v1h-1zM881 828h1v1h-1zM939 828h1v1h-1zM953 828h3v1h-3zM965 828h2v1h-2zM1047 828h1v1h-1zM1056 828h6v1h-6zM1144 828h1v1h-1zM1358 828h1v2h-1zM1372 828h2v1h-2zM1383 828h2v1h-2zM1 829h9v1h-9zM128 829h1v1h-1zM134 829h4v1h-4zM209 829h13v1h-13zM226 829h1v1h-1zM238 829h1v1h-1zM244 829h1v1h-1zM265 829h1v1h-1zM287 829h1v2h-1zM469 829h1v2h-1zM478 829h1v1h-1zM483 829h1v1h-1zM620 829h1v1h-1zM628 829h1v1h-1zM689 829h1v1h-1zM710 829h2v1h-2zM717 829h2v1h-2zM738 829h1v1h-1zM768 829h1v1h-1zM798 829h1v1h-1zM854 829h1v2h-1zM882 829h1v2h-1zM938 829h1v2h-1zM967 829h2v1h-2zM1036 829h1v1h-1zM1048 829h1v1h-1zM1052 829h4v1h-4zM1145 829h5v1h-5zM1178 829h1v2h-1zM1366 829h1v1h-1zM1374 829h1v1h-1zM1382 829h1v1h-1zM10 830h1v1h-1zM79 830h1v1h-1zM129 830h5v1h-5zM222 830h4v1h-4zM239 830h1v1h-1zM243 830h1v1h-1zM266 830h1v1h-1zM335 830h1v2h-1zM457 830h1v1h-1zM479 830h1v1h-1zM482 830h1v2h-1zM621 830h1v1h-1zM627 830h1v1h-1zM712 830h1v1h-1zM715 830h2v1h-2zM739 830h1v2h-1zM767 830h1v2h-1zM799 830h1v1h-1zM969 830h2v1h-2zM1035 830h1v1h-1zM1049 830h3v1h-3zM1150 830h4v1h-4zM1359 830h1v2h-1zM1365 830h1v1h-1zM1375 830h1v1h-1zM1380 830h2v1h-2zM11 831h1v2h-1zM78 831h1v2h-1zM240 831h1v1h-1zM242 831h1v1h-1zM267 831h1v1h-1zM286 831h1v2h-1zM455 831h2v1h-2zM458 831h2v1h-2zM468 831h1v1h-1zM480 831h1v1h-1zM622 831h2v1h-2zM626 831h1v2h-1zM713 831h2v1h-2zM800 831h1v1h-1zM853 831h1v1h-1zM883 831h1v2h-1zM936 831h2v1h-2zM971 831h3v1h-3zM1034 831h1v1h-1zM1154 831h1v1h-1zM1177 831h1v2h-1zM1364 831h1v1h-1zM1376 831h1v1h-1zM1378 831h2v1h-2zM241 832h1v1h-1zM268 832h1v1h-1zM336 832h1v2h-1zM441 832h2v1h-2zM454 832h1v1h-1zM460 832h2v1h-2zM467 832h1v1h-1zM481 832h1v1h-1zM624 832h1v1h-1zM740 832h1v1h-1zM753 832h1v1h-1zM766 832h1v1h-1zM801 832h1v1h-1zM852 832h1v2h-1zM934 832h2v1h-2zM974 832h2v1h-2zM1033 832h1v1h-1zM1155 832h1v1h-1zM1169 832h8v1h-8zM1360 832h1v2h-1zM1363 832h1v2h-1zM1377 832h1v1h-1zM12 833h1v1h-1zM77 833h1v1h-1zM269 833h1v1h-1zM285 833h1v2h-1zM441 833h1v1h-1zM443 833h3v1h-3zM452 833h2v1h-2zM462 833h1v1h-1zM466 833h1v2h-1zM625 833h1v1h-1zM741 833h1v1h-1zM752 833h1v1h-1zM754 833h2v1h-2zM765 833h1v1h-1zM802 833h2v1h-2zM884 833h1v2h-1zM931 833h3v1h-3zM976 833h2v1h-2zM1032 833h1v2h-1zM1156 833h2v1h-2zM1167 833h2v1h-2zM13 834h1v1h-1zM76 834h1v2h-1zM270 834h1v1h-1zM337 834h1v2h-1zM440 834h1v4h-1zM446 834h2v1h-2zM450 834h2v1h-2zM463 834h2v1h-2zM742 834h1v1h-1zM750 834h2v1h-2zM756 834h1v1h-1zM764 834h1v1h-1zM804 834h2v1h-2zM851 834h1v1h-1zM928 834h3v1h-3zM977 834h1v1h-1zM1158 834h1v1h-1zM1166 834h1v1h-1zM1361 834h2v1h-2zM14 835h1v1h-1zM271 835h1v1h-1zM284 835h1v2h-1zM448 835h2v1h-2zM465 835h1v1h-1zM743 835h1v2h-1zM749 835h1v1h-1zM757 835h1v1h-1zM763 835h1v2h-1zM806 835h1v1h-1zM850 835h1v2h-1zM885 835h1v1h-1zM924 835h4v1h-4zM978 835h1v3h-1zM1031 835h1v2h-1zM1159 835h1v1h-1zM1164 835h2v1h-2zM1361 835h1v1h-1zM15 836h1v2h-1zM75 836h1v1h-1zM272 836h1v1h-1zM338 836h1v2h-1zM748 836h1v1h-1zM758 836h2v1h-2zM807 836h2v1h-2zM886 836h1v2h-1zM921 836h3v1h-3zM1160 836h1v1h-1zM1162 836h2v1h-2zM74 837h1v2h-1zM273 837h1v1h-1zM283 837h1v2h-1zM744 837h1v1h-1zM746 837h2v1h-2zM760 837h1v1h-1zM762 837h1v1h-1zM809 837h2v1h-2zM849 837h1v1h-1zM920 837h1v1h-1zM1030 837h1v2h-1zM1161 837h1v1h-1zM16 838h1v1h-1zM274 838h2v1h-2zM339 838h1v2h-1zM439 838h1v4h-1zM745 838h1v1h-1zM761 838h1v1h-1zM811 838h3v1h-3zM824 838h11v1h-11zM847 838h2v1h-2zM887 838h1v2h-1zM919 838h1v1h-1zM979 838h1v2h-1zM17 839h1v2h-1zM73 839h1v1h-1zM276 839h2v1h-2zM282 839h1v2h-1zM814 839h2v1h-2zM820 839h4v1h-4zM835 839h3v1h-3zM845 839h2v1h-2zM918 839h1v1h-1zM1029 839h1v2h-1zM72 840h1v2h-1zM278 840h1v1h-1zM340 840h1v3h-1zM816 840h4v1h-4zM838 840h2v1h-2zM843 840h2v1h-2zM888 840h1v2h-1zM917 840h1v2h-1zM980 840h1v3h-1zM18 841h1v3h-1zM279 841h3v1h-3zM840 841h3v1h-3zM1028 841h1v2h-1zM71 842h1v2h-1zM281 842h1v1h-1zM438 842h1v3h-1zM889 842h1v1h-1zM916 842h1v1h-1zM341 843h1v2h-1zM890 843h1v2h-1zM915 843h1v1h-1zM981 843h1v3h-1zM1027 843h1v2h-1zM19 844h1v3h-1zM70 844h1v2h-1zM914 844h1v1h-1zM342 845h1v3h-1zM437 845h1v4h-1zM891 845h1v1h-1zM905 845h9v1h-9zM1026 845h1v2h-1zM69 846h1v1h-1zM892 846h1v2h-1zM904 846h1v1h-1zM982 846h1v3h-1zM20 847h1v3h-1zM41 847h11v1h-11zM68 847h1v2h-1zM903 847h1v1h-1zM1024 847h2v1h-2zM41 848h1v1h-1zM52 848h4v1h-4zM343 848h1v2h-1zM893 848h1v1h-1zM902 848h1v1h-1zM1020 848h4v1h-4zM40 849h1v3h-1zM56 849h3v1h-3zM67 849h1v2h-1zM436 849h1v3h-1zM894 849h1v2h-1zM901 849h1v2h-1zM983 849h1v2h-1zM1009 849h11v1h-11zM21 850h1v2h-1zM59 850h2v1h-2zM344 850h1v2h-1zM1007 850h2v1h-2zM61 851h2v1h-2zM66 851h1v2h-1zM895 851h1v1h-1zM900 851h1v1h-1zM984 851h1v3h-1zM1005 851h2v1h-2zM22 852h1v3h-1zM39 852h1v3h-1zM63 852h2v1h-2zM345 852h1v2h-1zM435 852h1v4h-1zM896 852h1v2h-1zM899 852h1v1h-1zM1003 852h2v1h-2zM65 853h1v1h-1zM346 853h1v1h-1zM898 853h1v1h-1zM1001 853h2v1h-2zM347 854h2v1h-2zM897 854h1v1h-1zM985 854h1v2h-1zM999 854h2v1h-2zM23 855h1v3h-1zM38 855h1v3h-1zM349 855h2v1h-2zM986 855h2v1h-2zM997 855h2v1h-2zM351 856h2v1h-2zM434 856h1v4h-1zM988 856h4v1h-4zM995 856h2v1h-2zM353 857h2v1h-2zM992 857h3v1h-3zM24 858h1v3h-1zM37 858h1v3h-1zM355 858h2v1h-2zM357 859h2v1h-2zM359 860h2v1h-2zM433 860h1v2h-1zM25 861h1v2h-1zM36 861h1v3h-1zM361 861h3v1h-3zM430 861h3v1h-3zM364 862h4v1h-4zM425 862h5v1h-5zM26 863h1v1h-1zM368 863h2v1h-2zM425 863h1v1h-1zM27 864h1v1h-1zM35 864h1v3h-1zM370 864h1v1h-1zM424 864h1v2h-1zM28 865h1v1h-1zM371 865h1v1h-1zM29 866h1v2h-1zM372 866h2v1h-2zM423 866h1v2h-1zM34 867h1v3h-1zM374 867h1v1h-1zM30 868h1v1h-1zM375 868h1v1h-1zM422 868h1v2h-1zM31 869h1v1h-1zM376 869h1v1h-1zM32 870h2v1h-2zM377 870h1v1h-1zM421 870h1v3h-1zM33 871h1v1h-1zM378 871h1v1h-1zM379 872h1v1h-1zM380 873h1v1h-1zM420 873h1v2h-1zM381 874h1v2h-1zM419 875h1v2h-1zM382 876h1v1h-1zM383 877h1v1h-1zM409 877h2v1h-2zM418 877h1v2h-1zM384 878h1v1h-1zM408 878h1v1h-1zM411 878h3v1h-3zM385 879h1v1h-1zM407 879h1v2h-1zM414 879h2v1h-2zM417 879h1v2h-1zM386 880h1v1h-1zM416 880h1v1h-1zM387 881h1v2h-1zM406 881h1v1h-1zM405 882h1v1h-1zM388 883h1v1h-1zM404 883h1v1h-1zM389 884h1v1h-1zM403 884h1v2h-1zM390 885h1v1h-1zM391 886h1v2h-1zM402 886h1v1h-1zM400 887h2v1h-2zM392 888h1v1h-1zM396 888h4v1h-4zM393 889h3v1h-3z"/>
<text transform="translate(-1.5,761) scale(0.93,1)" font-family='"Liberation Sans", sans-serif' font-size="10" fill="#000" text-anchor="start" font-weight="normal" stroke="#000" stroke-width="0.25">RSI(14) 64.6035</text>
<text transform="translate(1655,759.7) scale(0.9,1)" font-family='"Liberation Sans", sans-serif' font-size="10" fill="#000" text-anchor="start" font-weight="normal" stroke="#000" stroke-width="0.25">100</text>
<text transform="translate(1655,788.2) scale(0.9,1)" font-family='"Liberation Sans", sans-serif' font-size="10" fill="#000" text-anchor="start" font-weight="normal" stroke="#000" stroke-width="0.25">80</text>
<text transform="translate(1655,839.2) scale(0.9,1)" font-family='"Liberation Sans", sans-serif' font-size="10" fill="#000" text-anchor="start" font-weight="normal" stroke="#000" stroke-width="0.25">50</text>
<text transform="translate(1655,900.2) scale(0.9,1)" font-family='"Liberation Sans", sans-serif' font-size="10" fill="#000" text-anchor="start" font-weight="normal" stroke="#000" stroke-width="0.25">15</text>
<text transform="translate(1655,919.2) scale(0.9,1)" font-family='"Liberation Sans", sans-serif' font-size="10" fill="#000" text-anchor="start" font-weight="normal" stroke="#000" stroke-width="0.25">0</text>
<rect x="-7" y="922" width="1" height="4" fill="#000"/>
<text transform="translate(-8,935) scale(0.955,1)" font-family='"Liberation Sans", sans-serif' font-size="10" fill="#000" text-anchor="start" font-weight="normal" stroke="#000" stroke-width="0.25">7 Jul 2021</text>
<rect x="57" y="922" width="1" height="4" fill="#000"/>
<text transform="translate(56,935) scale(0.955,1)" font-family='"Liberation Sans", sans-serif' font-size="10" fill="#000" text-anchor="start" font-weight="normal" stroke="#000" stroke-width="0.25">8 Jul 20:00</text>
<rect x="121" y="922" width="1" height="4" fill="#000"/>
<text transform="translate(120,935) scale(0.955,1)" font-family='"Liberation Sans", sans-serif' font-size="10" fill="#000" text-anchor="start" font-weight="normal" stroke="#000" stroke-width="0.25">12 Jul 00:00</text>
<rect x="185" y="922" width="1" height="4" fill="#000"/>
<text transform="translate(184,935) scale(0.955,1)" font-family='"Liberation Sans", sans-serif' font-size="10" fill="#000" text-anchor="start" font-weight="normal" stroke="#000" stroke-width="0.25">13 Jul 08:00</text>
<rect x="249" y="922" width="1" height="4" fill="#000"/>
<text transform="translate(248,935) scale(0.955,1)" font-family='"Liberation Sans", sans-serif' font-size="10" fill="#000" text-anchor="start" font-weight="normal" stroke="#000" stroke-width="0.25">14 Jul 16:00</text>
<rect x="313" y="922" width="1" height="4" fill="#000"/>
<text transform="translate(312,935) scale(0.955,1)" font-family='"Liberation Sans", sans-serif' font-size="10" fill="#000" text-anchor="start" font-weight="normal" stroke="#000" stroke-width="0.25">16 Jul 00:00</text>
<rect x="377" y="922" width="1" height="4" fill="#000"/>
<text transform="translate(376,935) scale(0.955,1)" font-family='"Liberation Sans", sans-serif' font-size="10" fill="#000" text-anchor="start" font-weight="normal" stroke="#000" stroke-width="0.25">19 Jul 04:00</text>
<rect x="441" y="922" width="1" height="4" fill="#000"/>
<text transform="translate(440,935) scale(0.955,1)" font-family='"Liberation Sans", sans-serif' font-size="10" fill="#000" text-anchor="start" font-weight="normal" stroke="#000" stroke-width="0.25">20 Jul 12:00</text>
<rect x="505" y="922" width="1" height="4" fill="#000"/>
<text transform="translate(504,935) scale(0.955,1)" font-family='"Liberation Sans", sans-serif' font-size="10" fill="#000" text-anchor="start" font-weight="normal" stroke="#000" stroke-width="0.25">21 Jul 20:00</text>
<rect x="569" y="922" width="1" height="4" fill="#000"/>
<text transform="translate(568,935) scale(0.955,1)" font-family='"Liberation Sans", sans-serif' font-size="10" fill="#000" text-anchor="start" font-weight="normal" stroke="#000" stroke-width="0.25">23 Jul 04:00</text>
<rect x="633" y="922" width="1" height="4" fill="#000"/>
<text transform="translate(632,935) scale(0.955,1)" font-family='"Liberation Sans", sans-serif' font-size="10" fill="#000" text-anchor="start" font-weight="normal" stroke="#000" stroke-width="0.25">26 Jul 08:00</text>
<rect x="697" y="922" width="1" height="4" fill="#000"/>
<text transform="translate(696,935) scale(0.955,1)" font-family='"Liberation Sans", sans-serif' font-size="10" fill="#000" text-anchor="start" font-weight="normal" stroke="#000" stroke-width="0.25">27 Jul 16:00</text>
<rect x="761" y="922" width="1" height="4" fill="#000"/>
<text transform="translate(760,935) scale(0.955,1)" font-family='"Liberation Sans", sans-serif' font-size="10" fill="#000" text-anchor="start" font-weight="normal" stroke="#000" stroke-width="0.25">29 Jul 00:00</text>
<rect x="825" y="922" width="1" height="4" fill="#000"/>
<text transform="translate(824,935) scale(0.955,1)" font-family='"Liberation Sans", sans-serif' font-size="10" fill="#000" text-anchor="start" font-weight="normal" stroke="#000" stroke-width="0.25">30 Jul 08:00</text>
<rect x="889" y="922" width="1" height="4" fill="#000"/>
<text transform="translate(888,935) scale(0.955,1)" font-family='"Liberation Sans", sans-serif' font-size="10" fill="#000" text-anchor="start" font-weight="normal" stroke="#000" stroke-width="0.25">2 Aug 12:00</text>
<rect x="953" y="922" width="1" height="4" fill="#000"/>
<text transform="translate(952,935) scale(0.955,1)" font-family='"Liberation Sans", sans-serif' font-size="10" fill="#000" text-anchor="start" font-weight="normal" stroke="#000" stroke-width="0.25">3 Aug 20:00</text>
<rect x="1017" y="922" width="1" height="4" fill="#000"/>
<text transform="translate(1016,935) scale(0.955,1)" font-family='"Liberation Sans", sans-serif' font-size="10" fill="#000" text-anchor="start" font-weight="normal" stroke="#000" stroke-width="0.25">5 Aug 04:00</text>
<rect x="1081" y="922" width="1" height="4" fill="#000"/>
<text transform="translate(1080,935) scale(0.955,1)" font-family='"Liberation Sans", sans-serif' font-size="10" fill="#000" text-anchor="start" font-weight="normal" stroke="#000" stroke-width="0.25">6 Aug 12:00</text>
<rect x="1145" y="922" width="1" height="4" fill="#000"/>
<text transform="translate(1144,935) scale(0.955,1)" font-family='"Liberation Sans", sans-serif' font-size="10" fill="#000" text-anchor="start" font-weight="normal" stroke="#000" stroke-width="0.25">9 Aug 16:00</text>
<rect x="1209" y="922" width="1" height="4" fill="#000"/>
<text transform="translate(1208,935) scale(0.955,1)" font-family='"Liberation Sans", sans-serif' font-size="10" fill="#000" text-anchor="start" font-weight="normal" stroke="#000" stroke-width="0.25">11 Aug 00:00</text>
<rect x="1273" y="922" width="1" height="4" fill="#000"/>
<text transform="translate(1272,935) scale(0.955,1)" font-family='"Liberation Sans", sans-serif' font-size="10" fill="#000" text-anchor="start" font-weight="normal" stroke="#000" stroke-width="0.25">12 Aug 08:00</text>
<rect x="1337" y="922" width="1" height="4" fill="#000"/>
<text transform="translate(1336,935) scale(0.955,1)" font-family='"Liberation Sans", sans-serif' font-size="10" fill="#000" text-anchor="start" font-weight="normal" stroke="#000" stroke-width="0.25">13 Aug 16:00</text>
<rect x="1401" y="922" width="1" height="4" fill="#000"/>
<text transform="translate(1400,935) scale(0.955,1)" font-family='"Liberation Sans", sans-serif' font-size="10" fill="#000" text-anchor="start" font-weight="normal" stroke="#000" stroke-width="0.25">16 Aug 20:00</text><g shape-rendering="crispEdges"><line x1="1161.0" y1="198.0" x2="1317.4" y2="82.6" stroke="#ff0000" stroke-width="3.2"/><polygon points="1325.0,77.0 1318.6,87.6 1312.9,80.0" fill="#ff0000"/>
<line x1="1325.0" y1="77.0" x2="1379.1" y2="144.6" stroke="#ff0000" stroke-width="3.2"/><polygon points="1385.0,152.0 1374.1,146.0 1381.5,140.1" fill="#ff0000"/>
<line x1="1385.0" y1="152.0" x2="1422.8" y2="45.0" stroke="#ff0000" stroke-width="3.2"/><polygon points="1426.0,36.0 1426.6,48.4 1417.7,45.3" fill="#ff0000"/>
<line x1="1295.5" y1="598.0" x2="1369.2" y2="627.0" stroke="#ff0000" stroke-width="3.2"/><polygon points="1378.0,630.5 1365.6,630.7 1369.0,621.9" fill="#ff0000"/>
<line x1="1378.0" y1="630.5" x2="1412.3" y2="621.4" stroke="#ff0000" stroke-width="3.2"/><polygon points="1421.5,619.0 1411.6,626.5 1409.2,617.3" fill="#ff0000"/>
<line x1="1276.0" y1="781.5" x2="1345.6" y2="818.1" stroke="#ff0000" stroke-width="3.2"/><polygon points="1354.0,822.5 1341.6,821.4 1346.0,812.9" fill="#ff0000"/>
<line x1="1354.0" y1="822.5" x2="1413.1" y2="800.7" stroke="#ff0000" stroke-width="3.2"/><polygon points="1422.0,797.4 1412.9,805.8 1409.6,796.9" fill="#ff0000"/></g></svg>
<svg width="1698" height="944" viewBox="0 0 1698 944" style="position:absolute;left:0;top:0">
<defs><linearGradient id="bl" x1="0" y1="0" x2="0" y2="1"><stop offset="0" stop-color="#5c5cf0"/><stop offset="0.42" stop-color="#3232da"/><stop offset="1" stop-color="#0000aa"/></linearGradient><linearGradient id="gb" x1="0" y1="0" x2="0" y2="1"><stop offset="0" stop-color="#f4f4f4"/><stop offset="1" stop-color="#d0d0d0"/></linearGradient></defs>
<rect x="0" y="0" width="1698" height="16" fill="#f0f0f0"/>
<rect x="0" y="16" width="1698" height="1" fill="#d9d9d9"/>
<rect x="0" y="17" width="1698" height="1" fill="#a0a0a0"/>
<rect x="0" y="18" width="1698" height="1" fill="#696969"/>
<rect x="1697" y="19" width="1" height="925" fill="#e3e3e3"/>
<rect x="0" y="943" width="1698" height="1" fill="#e3e3e3"/>
<polygon points="0,27 0,32 4,32" fill="#000"/>
<text transform="translate(8.5,33) scale(0.93,1)" font-family='"Liberation Sans", sans-serif' font-size="10" fill="#000" stroke="#000" stroke-width="0.25" style="white-space:pre">DJ30-,H4  35503.0 35511.0 35501.0 35506.0</text>
<rect x="0" y="41" width="215" height="57" fill="url(#bl)"/>
<rect x="47.5" y="41" width="115.5" height="24.5" fill="#fff"/>
<rect x="105" y="65" width="2" height="33" fill="#fff"/>
<rect x="214" y="41" width="1" height="57" fill="#0a0aa8"/>
<rect x="0" y="97" width="215" height="1" fill="#0000a0"/>
<rect x="104" y="65" width="1" height="33" fill="#0a0aa8"/>
<rect x="0" y="65" width="44" height="1" fill="#8c8cf4"/>
<rect x="167" y="65" width="44" height="1" fill="#8c8cf4"/>
<rect x="50.5" y="42" width="110" height="20.5" fill="#fff" stroke="#b4b4b4" stroke-width="1"/>
<rect x="51.5" y="43" width="19.5" height="18.5" fill="url(#gb)" stroke="#bdbdbd" stroke-width="0.8"/>
<rect x="140" y="43" width="19.5" height="18.5" fill="url(#gb)" stroke="#bdbdbd" stroke-width="0.8"/>
<polygon points="58,50 64,50 61,53.5" fill="#4d5dc0"/>
<polygon points="146.5,53.5 152.5,53.5 149.5,50" fill="#4d5dc0"/>
<text x="135.5" y="56" font-family='"Liberation Sans", sans-serif' font-size="12" fill="#000" text-anchor="end">1.00</text>
<text transform="translate(21.2,56.7) scale(0.855,1)" font-family='"Liberation Sans", sans-serif' font-size="12.5" fill="#e8e8ff" text-anchor="middle">SELL</text>
<text transform="translate(188.1,56.7) scale(0.92,1)" font-family='"Liberation Sans", sans-serif' font-size="12.5" fill="#e8e8ff" text-anchor="middle">BUY</text>
<text x="12.5" y="92.6" font-family='"Liberation Sans", sans-serif' font-size="12" font-weight="bold" fill="#fff">35504</text>
<text x="50.5" y="93" font-family='"Liberation Sans", sans-serif' font-size="20" font-weight="bold" fill="#fff">.</text>
<text transform="translate(58,93.3) scale(0.93,1)" font-family='"Liberation Sans", sans-serif' font-size="33" fill="#fff">5</text>
<text x="122.5" y="92.6" font-family='"Liberation Sans", sans-serif' font-size="12" font-weight="bold" fill="#fff">35513</text>
<text x="161.5" y="93" font-family='"Liberation Sans", sans-serif' font-size="20" font-weight="bold" fill="#fff">.</text>
<text transform="translate(169.3,93.3) scale(0.93,1)" font-family='"Liberation Sans", sans-serif' font-size="33" fill="#fff">5</text>
<line x1="-1" y1="7.800" x2="4" y2="13.300" stroke="#c89a20" stroke-width="3"/><rect x="0" y="3.500" width="1" height="4.500" fill="#5a9ae0"/>
<rect x="12" y="0" width="1" height="15" fill="#a8a8a8"/>
<rect x="22.500" y="-2" width="11" height="12.300" rx="1" fill="#fff" stroke="#808080" stroke-width="1"/>
<rect x="25" y="0" width="2" height="1" fill="#888"/><rect x="30" y="0" width="2" height="1" fill="#888"/><rect x="25" y="3" width="6" height="1" fill="#999"/><rect x="25" y="5" width="4" height="1" fill="#999"/><rect x="25" y="7" width="3" height="1" fill="#999"/>
<path d="M30.500 3.500h3.500v3.700h3.800v3.500h-3.800v3.800h-3.500v-3.800h-4v-3.500h4z" fill="#38dc38" stroke="#129012" stroke-width="0.900"/><path d="M32.200 5 v8 M28 9 h8" stroke="#7cf07c" stroke-width="1" fill="none" opacity="0.800"/>
<text transform="translate(41,7.5) scale(1,1)" font-family='"Liberation Sans", "Noto Sans CJK SC", sans-serif' font-size="12" fill="#000" stroke="#000" stroke-width="0.2">新订单</text>
<defs><linearGradient id="gd" x1="0" y1="0" x2="1" y2="1"><stop offset="0" stop-color="#f6d860"/><stop offset="0.6" stop-color="#e0a820"/><stop offset="1" stop-color="#b07808"/></linearGradient><linearGradient id="gs" x1="0" y1="0" x2="1" y2="0"><stop offset="0" stop-color="#dfe8f6" stop-opacity="0.2"/><stop offset="1" stop-color="#3a9a3a"/></linearGradient></defs>
<polygon points="93,-1 98,-1 104.300,6.300 97.500,12.700 89.200,6.600" fill="url(#gd)" stroke="#a06c08" stroke-width="0.800"/><path d="M97.500 11.300 L103 6" stroke="#f4e8b0" stroke-width="1" fill="none"/>
<rect x="120" y="-3" width="10" height="9" fill="#2a8ae8"/><rect x="124" y="1" width="4.500" height="1" fill="#fff"/><rect x="124" y="3.500" width="3" height="1" fill="#cfe4fa"/><rect x="122.500" y="-3" width="1" height="8" fill="#9fd0ff"/>
<path d="M119.500 12.500 q-2.800 -0.300 -2.300 -2.600 q0.500 -2 3 -1.700 q0.800 -2.700 4 -2.500 q2.600 0.200 3.300 2 q2.500 -0.900 4.300 0.500 q1.800 1.600 0.500 3.400 q-0.700 0.900 -2.300 0.900 z" fill="#eef2fa" stroke="#4a68a4" stroke-width="0.900"/>
<circle cx="153" cy="4.600" r="7.600" fill="none" stroke="#a8bce4" stroke-width="1.300"/><circle cx="153" cy="4.600" r="4.300" fill="none" stroke="#5a86d8" stroke-width="1.500"/>
<path d="M153 4.600 L153 12.600 A8 8 0 0 0 160.500 2 A8 8 0 0 1 153 4.600 z" fill="#5aa860" opacity="0.750"/><path d="M153.200 5 V12.500" stroke="#2a9a2a" stroke-width="1.300"/>
<circle cx="153" cy="4.600" r="1.700" fill="#2450c4"/>
<path d="M172.700 4.500 L188.200 4 L181.500 12.300 L178.500 12.300 z" fill="#f4cc40" stroke="#c89a10" stroke-width="0.600"/>
<ellipse cx="180.300" cy="1.200" rx="8" ry="3.600" fill="#4a9ee0" stroke="#2a70b8" stroke-width="0.700"/><ellipse cx="181" cy="0" rx="4.500" ry="1.800" fill="#8cc8f4"/>
<circle cx="184.500" cy="8.600" r="4.100" fill="#e02818"/><rect x="183" y="7.100" width="3" height="3" fill="#fff"/>
<text transform="translate(193,7.5) scale(1,1)" font-family='"Liberation Sans", "Noto Sans CJK SC", sans-serif' font-size="12" fill="#000" stroke="#000" stroke-width="0.2">自动交易</text>
<rect x="248" y="0" width="1" height="15" fill="#a8a8a8"/>
<rect x="252" y="1" width="3" height="1" fill="#b0b0b0"/>
<rect x="252" y="3" width="3" height="1" fill="#b0b0b0"/>
<rect x="252" y="5" width="3" height="1" fill="#b0b0b0"/>
<rect x="252" y="7" width="3" height="1" fill="#b0b0b0"/>
<rect x="252" y="9" width="3" height="1" fill="#b0b0b0"/>
<rect x="252" y="11" width="3" height="1" fill="#b0b0b0"/>
<rect x="252" y="13" width="3" height="1" fill="#b0b0b0"/>
<path d="M266.5 -2 V12.5 M264 10.5 H277" stroke="#555" stroke-width="1.2" fill="none"/><polygon points="278.5,10.5 275.5,8.8 275.5,12.2" fill="#555"/>
<path d="M272.500 -2 V8 M270.5 1 H272.5 M272.5 5 H274.500" stroke="#2a8a2a" stroke-width="1.4" fill="none"/>
<rect x="287.500" y="-1" width="23" height="16" fill="#fafafa" stroke="#d0d0d0" stroke-width="1"/>
<path d="M294.5 -2 V12.5 M292 10.5 H305" stroke="#555" stroke-width="1.2" fill="none"/><polygon points="306.5,10.5 303.5,8.8 303.5,12.2" fill="#555"/>
<rect x="298" y="-2" width="4" height="8" fill="#30b030" stroke="#1a7a1a" stroke-width="0.8"/><path d="M300 6 V9" stroke="#1a7a1a" stroke-width="1"/>
<path d="M323.5 -2 V12.5 M321 10.5 H334" stroke="#555" stroke-width="1.2" fill="none"/><polygon points="335.5,10.5 332.5,8.8 332.5,12.2" fill="#555"/>
<path d="M324 8 Q328 -2 331 2 T336 6" stroke="#2a8a2a" stroke-width="1.2" fill="none"/>
<rect x="343" y="0" width="1" height="15" fill="#a8a8a8"/>
<line x1="361" y1="5" x2="367" y2="11" stroke="#d9a520" stroke-width="2.6"/>
<circle cx="358" cy="2" r="5.2" fill="#d8ecff" stroke="#4a7ac0" stroke-width="1.4"/>
<rect x="355" y="1.300" width="6" height="1.400" fill="#2a5ab0"/>
<rect x="357.3" y="-1" width="1.400" height="6" fill="#2a5ab0"/>
<line x1="389" y1="5" x2="395" y2="11" stroke="#d9a520" stroke-width="2.6"/>
<circle cx="386" cy="2" r="5.2" fill="#d8ecff" stroke="#4a7ac0" stroke-width="1.4"/>
<rect x="383" y="1.300" width="6" height="1.400" fill="#2a5ab0"/>
<rect x="408" y="-2" width="7.5" height="6.5" fill="#58a838"/><rect x="416.5" y="-2" width="7.500" height="6.500" fill="#3a68d8"/><rect x="408" y="5.500" width="7.500" height="7" fill="#3a68d8"/><rect x="416.500" y="5.500" width="7.500" height="7" fill="#58a838"/><rect x="409.500" y="0" width="4.500" height="2.500" fill="#eef6e8"/><rect x="418" y="0" width="4.500" height="2.500" fill="#e8eefc"/><rect x="409.500" y="8.500" width="4.500" height="2.500" fill="#e8eefc"/><rect x="418" y="8.500" width="4.500" height="2.500" fill="#eef6e8"/>
<rect x="434" y="0" width="1" height="15" fill="#a8a8a8"/>
<rect x="438.500" y="-1" width="24" height="16" fill="#f7f7f7" stroke="#d0d0d0" stroke-width="1"/><rect x="438" y="0" width="1" height="15" fill="#a0a0a0"/>
<path d="M447.5 -2 V12.5 M445 10.5 H458" stroke="#555" stroke-width="1.2" fill="none"/><polygon points="459.5,10.5 456.5,8.8 456.5,12.2" fill="#555"/>
<polygon points="451,1 451,8 456,4.500" fill="#30a030"/>
<rect x="466" y="0" width="1" height="15" fill="#a8a8a8"/>
<rect x="466.500" y="-1" width="25" height="16" fill="#f7f7f7" stroke="#d0d0d0" stroke-width="1"/>
<path d="M476.5 -2 V12.5 M474 10.5 H487" stroke="#555" stroke-width="1.2" fill="none"/><polygon points="488.5,10.5 485.5,8.8 485.5,12.2" fill="#555"/>
<path d="M482 0 V9" stroke="#555" stroke-width="1"/><polygon points="486,2 486,7 482.500,4.500" fill="#d04020"/>
<rect x="495" y="0" width="1" height="15" fill="#a8a8a8"/>
<rect x="506.500" y="-2" width="9" height="10" fill="#fff" stroke="#7a7a7a" stroke-width="1"/>
<path d="M513.500 3h3.500v3.700h3.800v3.500h-3.800v3.800h-3.500v-3.800h-4v-3.500h4z" fill="#38dc38" stroke="#129012" stroke-width="0.900"/><path d="M515.200 4.500 v8 M511 8.500 h8" stroke="#7cf07c" stroke-width="1" fill="none" opacity="0.800"/>
<polygon points="526.5,3.800 532.5,3.800 529.5,7" fill="#000"/>
<circle cx="551" cy="4.500" r="6.300" fill="#eef4ff" stroke="#2a62cc" stroke-width="2.600"/><path d="M551 0.500 V5 H554" stroke="#555" stroke-width="1" fill="none"/>
<polygon points="565.5,3.800 571.5,3.800 568.5,7" fill="#000"/>
<rect x="582.500" y="-1" width="15" height="12" fill="#f8f8ff" stroke="#3a6ac8" stroke-width="1.6"/><path d="M585 3 l4 -1 l3 1 l4 -2" stroke="#c03030" stroke-width="1" fill="none"/><path d="M585 8 l4 -1 l3 1 l4 -2" stroke="#30a030" stroke-width="1" fill="none"/>
<polygon points="605,3.800 611,3.800 608,7" fill="#000"/>
<rect x="620" y="1" width="3" height="1" fill="#b0b0b0"/>
<rect x="620" y="3" width="3" height="1" fill="#b0b0b0"/>
<rect x="620" y="5" width="3" height="1" fill="#b0b0b0"/>
<rect x="620" y="7" width="3" height="1" fill="#b0b0b0"/>
<rect x="620" y="9" width="3" height="1" fill="#b0b0b0"/>
<rect x="620" y="11" width="3" height="1" fill="#b0b0b0"/>
<rect x="620" y="13" width="3" height="1" fill="#b0b0b0"/>
<rect x="627.500" y="-1" width="24" height="16" fill="#fafafa" stroke="#d8d8d8" stroke-width="1"/>
<polygon points="634,-1 634,11 637,8.500 639.500,13 641.500,12 639,7.500 643,7.500" fill="#222"/>
<path d="M666.500 -2 V13 M659 5.500 H674" stroke="#555" stroke-width="1" fill="none"/>
<rect x="684" y="0" width="1" height="15" fill="#a8a8a8"/>
<path d="M700.500 -2 V12" stroke="#555" stroke-width="1"/>
<path d="M723 5.500 H735" stroke="#555" stroke-width="1"/>
<path d="M751.500 11.500 L765 -1" stroke="#555" stroke-width="1"/>
<path d="M777 9 L789 -3 M781 12 L793 0" stroke="#555" stroke-width="1" fill="none"/><path d="M780 6 l3 3 M782.500 3.500 l3 3 M785 1 l3 3 M787.500 -1.500 l3 3 M779 7 l7 -2 M783 9 l7 -8" stroke="#666" stroke-width="0.700" fill="none"/>
<text x="788" y="14" font-family='"Liberation Sans", sans-serif' font-size="7" font-weight="bold" fill="#333">E</text>
<path d="M807 1.500 H820 M807 5.500 H820 M807 9.500 H820" stroke="#555" stroke-width="1" stroke-dasharray="1,1" fill="none"/>
<text x="816" y="14" font-family='"Liberation Sans", sans-serif' font-size="7" font-weight="bold" fill="#333">F</text>
<text transform="translate(836.5,10) scale(1,1)" font-family='"Liberation Sans", sans-serif' font-size="13" fill="#000" stroke="#000" stroke-width="0.2">A</text>
<rect x="863.500" y="0.500" width="11" height="11" fill="none" stroke="#555" stroke-width="1" stroke-dasharray="1,1"/>
<text x="869" y="10" font-family='"Liberation Sans", sans-serif' font-size="11.5" font-weight="bold" fill="#444" text-anchor="middle">T</text>
<path d="M893.500 -2.500 l3.200 3 l-3.200 3 l-3.200 -3 z M900.500 6 l3.500 3 l-3.500 3 l-3.500 -3 z" fill="#333"/><path d="M891 3.500 L896 8.500 L899 5.500" stroke="#333" stroke-width="1.200" fill="none"/>
<polygon points="910.5,3.800 916.5,3.800 913.5,7" fill="#000"/>
<rect x="922" y="0" width="1" height="15" fill="#a8a8a8"/>
<rect x="926" y="1" width="3" height="1" fill="#b0b0b0"/>
<rect x="926" y="3" width="3" height="1" fill="#b0b0b0"/>
<rect x="926" y="5" width="3" height="1" fill="#b0b0b0"/>
<rect x="926" y="7" width="3" height="1" fill="#b0b0b0"/>
<rect x="926" y="9" width="3" height="1" fill="#b0b0b0"/>
<rect x="926" y="11" width="3" height="1" fill="#b0b0b0"/>
<rect x="926" y="13" width="3" height="1" fill="#b0b0b0"/>
<rect x="1072.500" y="-1" width="26" height="16" fill="#fafafa" stroke="#d0d0d0" stroke-width="1"/>
<text transform="translate(937.5,9) scale(0.92,1)" font-family='"Liberation Sans", sans-serif' font-size="10" fill="#000" stroke="#000" stroke-width="0.2">M1</text>
<text transform="translate(965.5,9) scale(0.92,1)" font-family='"Liberation Sans", sans-serif' font-size="10" fill="#000" stroke="#000" stroke-width="0.2">M5</text>
<text transform="translate(991,9) scale(0.92,1)" font-family='"Liberation Sans", sans-serif' font-size="10" fill="#000" stroke="#000" stroke-width="0.2">M15</text>
<text transform="translate(1019,9) scale(0.92,1)" font-family='"Liberation Sans", sans-serif' font-size="10" fill="#000" stroke="#000" stroke-width="0.2">M30</text>
<text transform="translate(1050.5,9) scale(0.92,1)" font-family='"Liberation Sans", sans-serif' font-size="10" fill="#000" stroke="#000" stroke-width="0.2">H1</text>
<text transform="translate(1078,9) scale(0.92,1)" font-family='"Liberation Sans", sans-serif' font-size="10" fill="#000" stroke="#000" stroke-width="0.2">H4</text>
<text transform="translate(1106.5,9) scale(0.92,1)" font-family='"Liberation Sans", sans-serif' font-size="10" fill="#000" stroke="#000" stroke-width="0.2">D1</text>
<text transform="translate(1134,9) scale(0.92,1)" font-family='"Liberation Sans", sans-serif' font-size="10" fill="#000" stroke="#000" stroke-width="0.2">W1</text>
<text transform="translate(1161,9) scale(0.92,1)" font-family='"Liberation Sans", sans-serif' font-size="10" fill="#000" stroke="#000" stroke-width="0.2">MN</text>
<rect x="1183" y="0" width="1" height="15" fill="#a8a8a8"/>
<circle cx="1653" cy="3" r="4.500" fill="#e8f0ff" stroke="#2a5ac8" stroke-width="1.800"/><line x1="1650" y1="6.500" x2="1646" y2="10.500" stroke="#2a5ac8" stroke-width="2"/>
<path d="M1672 3 q0 -5 7 -5 q7 0 7 5 q0 5 -7 5 l-4 4 l0 -4.500 q-3 -1 -3 -4.500z" fill="#f4f4f4" stroke="#aaa" stroke-width="0.8"/>
<circle cx="1685" cy="2.500" r="8" fill="#d83020"/>
<text x="1685" y="7" font-family='"Liberation Sans", sans-serif' font-size="11" fill="#fff" text-anchor="middle">1</text>
</svg>
</body></html>
